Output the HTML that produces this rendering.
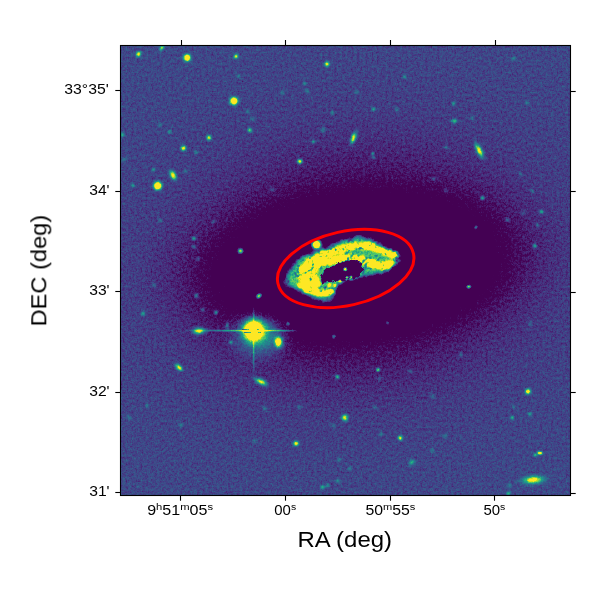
<!DOCTYPE html>
<html><head><meta charset="utf-8"><title>plot</title><style>
html,body{margin:0;padding:0;background:#fff;width:600px;height:600px;overflow:hidden}
svg{display:block;position:absolute;left:0;top:0}
text{font-family:"Liberation Sans",sans-serif;fill:#000}
</style></head><body>
<svg width="600" height="600" viewBox="0 0 600 600">
<defs>
<clipPath id="ax"><rect x="120.5" y="45.5" width="450" height="450"/></clipPath>
<radialGradient id="dh"><stop offset="0.0000" stop-color="#363636"/><stop offset="0.3500" stop-color="#393939"/><stop offset="0.4250" stop-color="#414141"/><stop offset="0.5000" stop-color="#474747"/><stop offset="0.6000" stop-color="#4c4c4c"/><stop offset="0.7500" stop-color="#4f4f4f"/><stop offset="1.0000" stop-color="#515151"/></radialGradient>
<radialGradient id="dk"><stop offset="0.0000" stop-color="#030303" stop-opacity="1"/><stop offset="0.4615" stop-color="#121212" stop-opacity="1"/><stop offset="0.5769" stop-color="#222222" stop-opacity="1"/><stop offset="0.6692" stop-color="#2f2f2f" stop-opacity="1"/><stop offset="0.7692" stop-color="#393939" stop-opacity="0.7"/><stop offset="0.8846" stop-color="#404040" stop-opacity="0.3"/><stop offset="1.0000" stop-color="#424242" stop-opacity="0"/></radialGradient>
<radialGradient id="glow"><stop offset="0" stop-color="#fff" stop-opacity="0.42"/><stop offset="0.3" stop-color="#fff" stop-opacity="0.28"/><stop offset="0.55" stop-color="#fff" stop-opacity="0.12"/><stop offset="0.78" stop-color="#fff" stop-opacity="0.04"/><stop offset="1" stop-color="#fff" stop-opacity="0"/></radialGradient>
<radialGradient id="g0"><stop offset="0.000" stop-color="#fff" stop-opacity="0.629"/><stop offset="0.071" stop-color="#fff" stop-opacity="0.615"/><stop offset="0.143" stop-color="#fff" stop-opacity="0.574"/><stop offset="0.214" stop-color="#fff" stop-opacity="0.512"/><stop offset="0.286" stop-color="#fff" stop-opacity="0.436"/><stop offset="0.357" stop-color="#fff" stop-opacity="0.354"/><stop offset="0.429" stop-color="#fff" stop-opacity="0.275"/><stop offset="0.500" stop-color="#fff" stop-opacity="0.204"/><stop offset="0.571" stop-color="#fff" stop-opacity="0.145"/><stop offset="0.643" stop-color="#fff" stop-opacity="0.098"/><stop offset="0.714" stop-color="#fff" stop-opacity="0.063"/><stop offset="0.786" stop-color="#fff" stop-opacity="0.039"/><stop offset="0.857" stop-color="#fff" stop-opacity="0.023"/><stop offset="0.929" stop-color="#fff" stop-opacity="0.013"/><stop offset="1.000" stop-color="#fff" stop-opacity="0.000"/></radialGradient>
<radialGradient id="g1"><stop offset="0.000" stop-color="#fff" stop-opacity="0.447"/><stop offset="0.071" stop-color="#fff" stop-opacity="0.437"/><stop offset="0.143" stop-color="#fff" stop-opacity="0.408"/><stop offset="0.214" stop-color="#fff" stop-opacity="0.363"/><stop offset="0.286" stop-color="#fff" stop-opacity="0.309"/><stop offset="0.357" stop-color="#fff" stop-opacity="0.252"/><stop offset="0.429" stop-color="#fff" stop-opacity="0.196"/><stop offset="0.500" stop-color="#fff" stop-opacity="0.145"/><stop offset="0.571" stop-color="#fff" stop-opacity="0.103"/><stop offset="0.643" stop-color="#fff" stop-opacity="0.070"/><stop offset="0.714" stop-color="#fff" stop-opacity="0.045"/><stop offset="0.786" stop-color="#fff" stop-opacity="0.028"/><stop offset="0.857" stop-color="#fff" stop-opacity="0.016"/><stop offset="0.929" stop-color="#fff" stop-opacity="0.009"/><stop offset="1.000" stop-color="#fff" stop-opacity="0.000"/></radialGradient>
<radialGradient id="g2"><stop offset="0.000" stop-color="#fff" stop-opacity="1.000"/><stop offset="0.071" stop-color="#fff" stop-opacity="0.993"/><stop offset="0.143" stop-color="#fff" stop-opacity="0.927"/><stop offset="0.214" stop-color="#fff" stop-opacity="0.827"/><stop offset="0.286" stop-color="#fff" stop-opacity="0.704"/><stop offset="0.357" stop-color="#fff" stop-opacity="0.573"/><stop offset="0.429" stop-color="#fff" stop-opacity="0.445"/><stop offset="0.500" stop-color="#fff" stop-opacity="0.330"/><stop offset="0.571" stop-color="#fff" stop-opacity="0.234"/><stop offset="0.643" stop-color="#fff" stop-opacity="0.158"/><stop offset="0.714" stop-color="#fff" stop-opacity="0.102"/><stop offset="0.786" stop-color="#fff" stop-opacity="0.063"/><stop offset="0.857" stop-color="#fff" stop-opacity="0.037"/><stop offset="0.929" stop-color="#fff" stop-opacity="0.021"/><stop offset="1.000" stop-color="#fff" stop-opacity="0.000"/></radialGradient>
<radialGradient id="g3"><stop offset="0.000" stop-color="#fff" stop-opacity="0.594"/><stop offset="0.071" stop-color="#fff" stop-opacity="0.580"/><stop offset="0.143" stop-color="#fff" stop-opacity="0.542"/><stop offset="0.214" stop-color="#fff" stop-opacity="0.483"/><stop offset="0.286" stop-color="#fff" stop-opacity="0.411"/><stop offset="0.357" stop-color="#fff" stop-opacity="0.334"/><stop offset="0.429" stop-color="#fff" stop-opacity="0.260"/><stop offset="0.500" stop-color="#fff" stop-opacity="0.193"/><stop offset="0.571" stop-color="#fff" stop-opacity="0.137"/><stop offset="0.643" stop-color="#fff" stop-opacity="0.092"/><stop offset="0.714" stop-color="#fff" stop-opacity="0.060"/><stop offset="0.786" stop-color="#fff" stop-opacity="0.037"/><stop offset="0.857" stop-color="#fff" stop-opacity="0.022"/><stop offset="0.929" stop-color="#fff" stop-opacity="0.012"/><stop offset="1.000" stop-color="#fff" stop-opacity="0.000"/></radialGradient>
<radialGradient id="g4"><stop offset="0.000" stop-color="#fff" stop-opacity="0.622"/><stop offset="0.071" stop-color="#fff" stop-opacity="0.608"/><stop offset="0.143" stop-color="#fff" stop-opacity="0.567"/><stop offset="0.214" stop-color="#fff" stop-opacity="0.506"/><stop offset="0.286" stop-color="#fff" stop-opacity="0.431"/><stop offset="0.357" stop-color="#fff" stop-opacity="0.350"/><stop offset="0.429" stop-color="#fff" stop-opacity="0.272"/><stop offset="0.500" stop-color="#fff" stop-opacity="0.202"/><stop offset="0.571" stop-color="#fff" stop-opacity="0.143"/><stop offset="0.643" stop-color="#fff" stop-opacity="0.097"/><stop offset="0.714" stop-color="#fff" stop-opacity="0.063"/><stop offset="0.786" stop-color="#fff" stop-opacity="0.039"/><stop offset="0.857" stop-color="#fff" stop-opacity="0.023"/><stop offset="0.929" stop-color="#fff" stop-opacity="0.013"/><stop offset="1.000" stop-color="#fff" stop-opacity="0.000"/></radialGradient>
<radialGradient id="g5"><stop offset="0.000" stop-color="#fff" stop-opacity="1.000"/><stop offset="0.071" stop-color="#fff" stop-opacity="1.000"/><stop offset="0.143" stop-color="#fff" stop-opacity="1.000"/><stop offset="0.214" stop-color="#fff" stop-opacity="0.953"/><stop offset="0.286" stop-color="#fff" stop-opacity="0.811"/><stop offset="0.357" stop-color="#fff" stop-opacity="0.660"/><stop offset="0.429" stop-color="#fff" stop-opacity="0.513"/><stop offset="0.500" stop-color="#fff" stop-opacity="0.380"/><stop offset="0.571" stop-color="#fff" stop-opacity="0.270"/><stop offset="0.643" stop-color="#fff" stop-opacity="0.182"/><stop offset="0.714" stop-color="#fff" stop-opacity="0.118"/><stop offset="0.786" stop-color="#fff" stop-opacity="0.073"/><stop offset="0.857" stop-color="#fff" stop-opacity="0.043"/><stop offset="0.929" stop-color="#fff" stop-opacity="0.024"/><stop offset="1.000" stop-color="#fff" stop-opacity="0.000"/></radialGradient>
<radialGradient id="g6"><stop offset="0.000" stop-color="#fff" stop-opacity="0.430"/><stop offset="0.071" stop-color="#fff" stop-opacity="0.420"/><stop offset="0.143" stop-color="#fff" stop-opacity="0.392"/><stop offset="0.214" stop-color="#fff" stop-opacity="0.349"/><stop offset="0.286" stop-color="#fff" stop-opacity="0.298"/><stop offset="0.357" stop-color="#fff" stop-opacity="0.242"/><stop offset="0.429" stop-color="#fff" stop-opacity="0.188"/><stop offset="0.500" stop-color="#fff" stop-opacity="0.140"/><stop offset="0.571" stop-color="#fff" stop-opacity="0.099"/><stop offset="0.643" stop-color="#fff" stop-opacity="0.067"/><stop offset="0.714" stop-color="#fff" stop-opacity="0.043"/><stop offset="0.786" stop-color="#fff" stop-opacity="0.027"/><stop offset="0.857" stop-color="#fff" stop-opacity="0.016"/><stop offset="0.929" stop-color="#fff" stop-opacity="0.009"/><stop offset="1.000" stop-color="#fff" stop-opacity="0.000"/></radialGradient>
<radialGradient id="g7"><stop offset="0.000" stop-color="#fff" stop-opacity="0.607"/><stop offset="0.071" stop-color="#fff" stop-opacity="0.593"/><stop offset="0.143" stop-color="#fff" stop-opacity="0.554"/><stop offset="0.214" stop-color="#fff" stop-opacity="0.494"/><stop offset="0.286" stop-color="#fff" stop-opacity="0.420"/><stop offset="0.357" stop-color="#fff" stop-opacity="0.342"/><stop offset="0.429" stop-color="#fff" stop-opacity="0.266"/><stop offset="0.500" stop-color="#fff" stop-opacity="0.197"/><stop offset="0.571" stop-color="#fff" stop-opacity="0.140"/><stop offset="0.643" stop-color="#fff" stop-opacity="0.095"/><stop offset="0.714" stop-color="#fff" stop-opacity="0.061"/><stop offset="0.786" stop-color="#fff" stop-opacity="0.038"/><stop offset="0.857" stop-color="#fff" stop-opacity="0.022"/><stop offset="0.929" stop-color="#fff" stop-opacity="0.013"/><stop offset="1.000" stop-color="#fff" stop-opacity="0.000"/></radialGradient>
<radialGradient id="g8"><stop offset="0.000" stop-color="#fff" stop-opacity="0.222"/><stop offset="0.071" stop-color="#fff" stop-opacity="0.217"/><stop offset="0.143" stop-color="#fff" stop-opacity="0.202"/><stop offset="0.214" stop-color="#fff" stop-opacity="0.180"/><stop offset="0.286" stop-color="#fff" stop-opacity="0.153"/><stop offset="0.357" stop-color="#fff" stop-opacity="0.125"/><stop offset="0.429" stop-color="#fff" stop-opacity="0.097"/><stop offset="0.500" stop-color="#fff" stop-opacity="0.072"/><stop offset="0.571" stop-color="#fff" stop-opacity="0.051"/><stop offset="0.643" stop-color="#fff" stop-opacity="0.034"/><stop offset="0.714" stop-color="#fff" stop-opacity="0.022"/><stop offset="0.786" stop-color="#fff" stop-opacity="0.014"/><stop offset="0.857" stop-color="#fff" stop-opacity="0.008"/><stop offset="0.929" stop-color="#fff" stop-opacity="0.005"/><stop offset="1.000" stop-color="#fff" stop-opacity="0.000"/></radialGradient>
<radialGradient id="g9"><stop offset="0.000" stop-color="#fff" stop-opacity="0.651"/><stop offset="0.071" stop-color="#fff" stop-opacity="0.636"/><stop offset="0.143" stop-color="#fff" stop-opacity="0.594"/><stop offset="0.214" stop-color="#fff" stop-opacity="0.529"/><stop offset="0.286" stop-color="#fff" stop-opacity="0.451"/><stop offset="0.357" stop-color="#fff" stop-opacity="0.367"/><stop offset="0.429" stop-color="#fff" stop-opacity="0.285"/><stop offset="0.500" stop-color="#fff" stop-opacity="0.211"/><stop offset="0.571" stop-color="#fff" stop-opacity="0.150"/><stop offset="0.643" stop-color="#fff" stop-opacity="0.101"/><stop offset="0.714" stop-color="#fff" stop-opacity="0.066"/><stop offset="0.786" stop-color="#fff" stop-opacity="0.040"/><stop offset="0.857" stop-color="#fff" stop-opacity="0.024"/><stop offset="0.929" stop-color="#fff" stop-opacity="0.013"/><stop offset="1.000" stop-color="#fff" stop-opacity="0.000"/></radialGradient>
<radialGradient id="g10"><stop offset="0.000" stop-color="#fff" stop-opacity="0.674"/><stop offset="0.071" stop-color="#fff" stop-opacity="0.658"/><stop offset="0.143" stop-color="#fff" stop-opacity="0.614"/><stop offset="0.214" stop-color="#fff" stop-opacity="0.548"/><stop offset="0.286" stop-color="#fff" stop-opacity="0.466"/><stop offset="0.357" stop-color="#fff" stop-opacity="0.379"/><stop offset="0.429" stop-color="#fff" stop-opacity="0.295"/><stop offset="0.500" stop-color="#fff" stop-opacity="0.219"/><stop offset="0.571" stop-color="#fff" stop-opacity="0.155"/><stop offset="0.643" stop-color="#fff" stop-opacity="0.105"/><stop offset="0.714" stop-color="#fff" stop-opacity="0.068"/><stop offset="0.786" stop-color="#fff" stop-opacity="0.042"/><stop offset="0.857" stop-color="#fff" stop-opacity="0.025"/><stop offset="0.929" stop-color="#fff" stop-opacity="0.014"/><stop offset="1.000" stop-color="#fff" stop-opacity="0.000"/></radialGradient>
<radialGradient id="g11"><stop offset="0.000" stop-color="#fff" stop-opacity="1.000"/><stop offset="0.071" stop-color="#fff" stop-opacity="1.000"/><stop offset="0.143" stop-color="#fff" stop-opacity="1.000"/><stop offset="0.214" stop-color="#fff" stop-opacity="0.988"/><stop offset="0.286" stop-color="#fff" stop-opacity="0.842"/><stop offset="0.357" stop-color="#fff" stop-opacity="0.684"/><stop offset="0.429" stop-color="#fff" stop-opacity="0.532"/><stop offset="0.500" stop-color="#fff" stop-opacity="0.394"/><stop offset="0.571" stop-color="#fff" stop-opacity="0.280"/><stop offset="0.643" stop-color="#fff" stop-opacity="0.189"/><stop offset="0.714" stop-color="#fff" stop-opacity="0.122"/><stop offset="0.786" stop-color="#fff" stop-opacity="0.076"/><stop offset="0.857" stop-color="#fff" stop-opacity="0.045"/><stop offset="0.929" stop-color="#fff" stop-opacity="0.025"/><stop offset="1.000" stop-color="#fff" stop-opacity="0.000"/></radialGradient>
<radialGradient id="g12"><stop offset="0.000" stop-color="#fff" stop-opacity="0.254"/><stop offset="0.071" stop-color="#fff" stop-opacity="0.248"/><stop offset="0.143" stop-color="#fff" stop-opacity="0.231"/><stop offset="0.214" stop-color="#fff" stop-opacity="0.206"/><stop offset="0.286" stop-color="#fff" stop-opacity="0.176"/><stop offset="0.357" stop-color="#fff" stop-opacity="0.143"/><stop offset="0.429" stop-color="#fff" stop-opacity="0.111"/><stop offset="0.500" stop-color="#fff" stop-opacity="0.082"/><stop offset="0.571" stop-color="#fff" stop-opacity="0.058"/><stop offset="0.643" stop-color="#fff" stop-opacity="0.039"/><stop offset="0.714" stop-color="#fff" stop-opacity="0.026"/><stop offset="0.786" stop-color="#fff" stop-opacity="0.016"/><stop offset="0.857" stop-color="#fff" stop-opacity="0.009"/><stop offset="0.929" stop-color="#fff" stop-opacity="0.005"/><stop offset="1.000" stop-color="#fff" stop-opacity="0.000"/></radialGradient>
<radialGradient id="g13"><stop offset="0.000" stop-color="#fff" stop-opacity="0.253"/><stop offset="0.071" stop-color="#fff" stop-opacity="0.248"/><stop offset="0.143" stop-color="#fff" stop-opacity="0.231"/><stop offset="0.214" stop-color="#fff" stop-opacity="0.206"/><stop offset="0.286" stop-color="#fff" stop-opacity="0.175"/><stop offset="0.357" stop-color="#fff" stop-opacity="0.143"/><stop offset="0.429" stop-color="#fff" stop-opacity="0.111"/><stop offset="0.500" stop-color="#fff" stop-opacity="0.082"/><stop offset="0.571" stop-color="#fff" stop-opacity="0.058"/><stop offset="0.643" stop-color="#fff" stop-opacity="0.039"/><stop offset="0.714" stop-color="#fff" stop-opacity="0.026"/><stop offset="0.786" stop-color="#fff" stop-opacity="0.016"/><stop offset="0.857" stop-color="#fff" stop-opacity="0.009"/><stop offset="0.929" stop-color="#fff" stop-opacity="0.005"/><stop offset="1.000" stop-color="#fff" stop-opacity="0.000"/></radialGradient>
<radialGradient id="g14"><stop offset="0.000" stop-color="#fff" stop-opacity="0.332"/><stop offset="0.071" stop-color="#fff" stop-opacity="0.324"/><stop offset="0.143" stop-color="#fff" stop-opacity="0.303"/><stop offset="0.214" stop-color="#fff" stop-opacity="0.270"/><stop offset="0.286" stop-color="#fff" stop-opacity="0.230"/><stop offset="0.357" stop-color="#fff" stop-opacity="0.187"/><stop offset="0.429" stop-color="#fff" stop-opacity="0.145"/><stop offset="0.500" stop-color="#fff" stop-opacity="0.108"/><stop offset="0.571" stop-color="#fff" stop-opacity="0.076"/><stop offset="0.643" stop-color="#fff" stop-opacity="0.052"/><stop offset="0.714" stop-color="#fff" stop-opacity="0.033"/><stop offset="0.786" stop-color="#fff" stop-opacity="0.021"/><stop offset="0.857" stop-color="#fff" stop-opacity="0.012"/><stop offset="0.929" stop-color="#fff" stop-opacity="0.007"/><stop offset="1.000" stop-color="#fff" stop-opacity="0.000"/></radialGradient>
<radialGradient id="g15"><stop offset="0.000" stop-color="#fff" stop-opacity="0.599"/><stop offset="0.071" stop-color="#fff" stop-opacity="0.585"/><stop offset="0.143" stop-color="#fff" stop-opacity="0.546"/><stop offset="0.214" stop-color="#fff" stop-opacity="0.487"/><stop offset="0.286" stop-color="#fff" stop-opacity="0.415"/><stop offset="0.357" stop-color="#fff" stop-opacity="0.337"/><stop offset="0.429" stop-color="#fff" stop-opacity="0.262"/><stop offset="0.500" stop-color="#fff" stop-opacity="0.194"/><stop offset="0.571" stop-color="#fff" stop-opacity="0.138"/><stop offset="0.643" stop-color="#fff" stop-opacity="0.093"/><stop offset="0.714" stop-color="#fff" stop-opacity="0.060"/><stop offset="0.786" stop-color="#fff" stop-opacity="0.037"/><stop offset="0.857" stop-color="#fff" stop-opacity="0.022"/><stop offset="0.929" stop-color="#fff" stop-opacity="0.012"/><stop offset="1.000" stop-color="#fff" stop-opacity="0.000"/></radialGradient>
<radialGradient id="g16"><stop offset="0.000" stop-color="#fff" stop-opacity="0.610"/><stop offset="0.071" stop-color="#fff" stop-opacity="0.596"/><stop offset="0.143" stop-color="#fff" stop-opacity="0.557"/><stop offset="0.214" stop-color="#fff" stop-opacity="0.496"/><stop offset="0.286" stop-color="#fff" stop-opacity="0.423"/><stop offset="0.357" stop-color="#fff" stop-opacity="0.344"/><stop offset="0.429" stop-color="#fff" stop-opacity="0.267"/><stop offset="0.500" stop-color="#fff" stop-opacity="0.198"/><stop offset="0.571" stop-color="#fff" stop-opacity="0.140"/><stop offset="0.643" stop-color="#fff" stop-opacity="0.095"/><stop offset="0.714" stop-color="#fff" stop-opacity="0.061"/><stop offset="0.786" stop-color="#fff" stop-opacity="0.038"/><stop offset="0.857" stop-color="#fff" stop-opacity="0.022"/><stop offset="0.929" stop-color="#fff" stop-opacity="0.013"/><stop offset="1.000" stop-color="#fff" stop-opacity="0.000"/></radialGradient>
<radialGradient id="g17"><stop offset="0.000" stop-color="#fff" stop-opacity="0.289"/><stop offset="0.071" stop-color="#fff" stop-opacity="0.283"/><stop offset="0.143" stop-color="#fff" stop-opacity="0.264"/><stop offset="0.214" stop-color="#fff" stop-opacity="0.235"/><stop offset="0.286" stop-color="#fff" stop-opacity="0.200"/><stop offset="0.357" stop-color="#fff" stop-opacity="0.163"/><stop offset="0.429" stop-color="#fff" stop-opacity="0.127"/><stop offset="0.500" stop-color="#fff" stop-opacity="0.094"/><stop offset="0.571" stop-color="#fff" stop-opacity="0.067"/><stop offset="0.643" stop-color="#fff" stop-opacity="0.045"/><stop offset="0.714" stop-color="#fff" stop-opacity="0.029"/><stop offset="0.786" stop-color="#fff" stop-opacity="0.018"/><stop offset="0.857" stop-color="#fff" stop-opacity="0.011"/><stop offset="0.929" stop-color="#fff" stop-opacity="0.006"/><stop offset="1.000" stop-color="#fff" stop-opacity="0.000"/></radialGradient>
<radialGradient id="g18"><stop offset="0.000" stop-color="#fff" stop-opacity="0.181"/><stop offset="0.071" stop-color="#fff" stop-opacity="0.177"/><stop offset="0.143" stop-color="#fff" stop-opacity="0.166"/><stop offset="0.214" stop-color="#fff" stop-opacity="0.148"/><stop offset="0.286" stop-color="#fff" stop-opacity="0.126"/><stop offset="0.357" stop-color="#fff" stop-opacity="0.102"/><stop offset="0.429" stop-color="#fff" stop-opacity="0.079"/><stop offset="0.500" stop-color="#fff" stop-opacity="0.059"/><stop offset="0.571" stop-color="#fff" stop-opacity="0.042"/><stop offset="0.643" stop-color="#fff" stop-opacity="0.028"/><stop offset="0.714" stop-color="#fff" stop-opacity="0.018"/><stop offset="0.786" stop-color="#fff" stop-opacity="0.011"/><stop offset="0.857" stop-color="#fff" stop-opacity="0.007"/><stop offset="0.929" stop-color="#fff" stop-opacity="0.004"/><stop offset="1.000" stop-color="#fff" stop-opacity="0.000"/></radialGradient>
<radialGradient id="g19"><stop offset="0.000" stop-color="#fff" stop-opacity="0.249"/><stop offset="0.071" stop-color="#fff" stop-opacity="0.243"/><stop offset="0.143" stop-color="#fff" stop-opacity="0.227"/><stop offset="0.214" stop-color="#fff" stop-opacity="0.203"/><stop offset="0.286" stop-color="#fff" stop-opacity="0.172"/><stop offset="0.357" stop-color="#fff" stop-opacity="0.140"/><stop offset="0.429" stop-color="#fff" stop-opacity="0.109"/><stop offset="0.500" stop-color="#fff" stop-opacity="0.081"/><stop offset="0.571" stop-color="#fff" stop-opacity="0.057"/><stop offset="0.643" stop-color="#fff" stop-opacity="0.039"/><stop offset="0.714" stop-color="#fff" stop-opacity="0.025"/><stop offset="0.786" stop-color="#fff" stop-opacity="0.015"/><stop offset="0.857" stop-color="#fff" stop-opacity="0.009"/><stop offset="0.929" stop-color="#fff" stop-opacity="0.005"/><stop offset="1.000" stop-color="#fff" stop-opacity="0.000"/></radialGradient>
<radialGradient id="g20"><stop offset="0.000" stop-color="#fff" stop-opacity="0.244"/><stop offset="0.071" stop-color="#fff" stop-opacity="0.238"/><stop offset="0.143" stop-color="#fff" stop-opacity="0.222"/><stop offset="0.214" stop-color="#fff" stop-opacity="0.198"/><stop offset="0.286" stop-color="#fff" stop-opacity="0.169"/><stop offset="0.357" stop-color="#fff" stop-opacity="0.137"/><stop offset="0.429" stop-color="#fff" stop-opacity="0.107"/><stop offset="0.500" stop-color="#fff" stop-opacity="0.079"/><stop offset="0.571" stop-color="#fff" stop-opacity="0.056"/><stop offset="0.643" stop-color="#fff" stop-opacity="0.038"/><stop offset="0.714" stop-color="#fff" stop-opacity="0.025"/><stop offset="0.786" stop-color="#fff" stop-opacity="0.015"/><stop offset="0.857" stop-color="#fff" stop-opacity="0.009"/><stop offset="0.929" stop-color="#fff" stop-opacity="0.005"/><stop offset="1.000" stop-color="#fff" stop-opacity="0.000"/></radialGradient>
<radialGradient id="g21"><stop offset="0.000" stop-color="#fff" stop-opacity="0.209"/><stop offset="0.071" stop-color="#fff" stop-opacity="0.204"/><stop offset="0.143" stop-color="#fff" stop-opacity="0.190"/><stop offset="0.214" stop-color="#fff" stop-opacity="0.170"/><stop offset="0.286" stop-color="#fff" stop-opacity="0.145"/><stop offset="0.357" stop-color="#fff" stop-opacity="0.118"/><stop offset="0.429" stop-color="#fff" stop-opacity="0.091"/><stop offset="0.500" stop-color="#fff" stop-opacity="0.068"/><stop offset="0.571" stop-color="#fff" stop-opacity="0.048"/><stop offset="0.643" stop-color="#fff" stop-opacity="0.032"/><stop offset="0.714" stop-color="#fff" stop-opacity="0.021"/><stop offset="0.786" stop-color="#fff" stop-opacity="0.013"/><stop offset="0.857" stop-color="#fff" stop-opacity="0.008"/><stop offset="0.929" stop-color="#fff" stop-opacity="0.004"/><stop offset="1.000" stop-color="#fff" stop-opacity="0.000"/></radialGradient>
<radialGradient id="g22"><stop offset="0.000" stop-color="#fff" stop-opacity="0.187"/><stop offset="0.071" stop-color="#fff" stop-opacity="0.183"/><stop offset="0.143" stop-color="#fff" stop-opacity="0.171"/><stop offset="0.214" stop-color="#fff" stop-opacity="0.152"/><stop offset="0.286" stop-color="#fff" stop-opacity="0.130"/><stop offset="0.357" stop-color="#fff" stop-opacity="0.105"/><stop offset="0.429" stop-color="#fff" stop-opacity="0.082"/><stop offset="0.500" stop-color="#fff" stop-opacity="0.061"/><stop offset="0.571" stop-color="#fff" stop-opacity="0.043"/><stop offset="0.643" stop-color="#fff" stop-opacity="0.029"/><stop offset="0.714" stop-color="#fff" stop-opacity="0.019"/><stop offset="0.786" stop-color="#fff" stop-opacity="0.012"/><stop offset="0.857" stop-color="#fff" stop-opacity="0.007"/><stop offset="0.929" stop-color="#fff" stop-opacity="0.004"/><stop offset="1.000" stop-color="#fff" stop-opacity="0.000"/></radialGradient>
<radialGradient id="g23"><stop offset="0.000" stop-color="#fff" stop-opacity="0.646"/><stop offset="0.071" stop-color="#fff" stop-opacity="0.631"/><stop offset="0.143" stop-color="#fff" stop-opacity="0.589"/><stop offset="0.214" stop-color="#fff" stop-opacity="0.525"/><stop offset="0.286" stop-color="#fff" stop-opacity="0.447"/><stop offset="0.357" stop-color="#fff" stop-opacity="0.364"/><stop offset="0.429" stop-color="#fff" stop-opacity="0.282"/><stop offset="0.500" stop-color="#fff" stop-opacity="0.210"/><stop offset="0.571" stop-color="#fff" stop-opacity="0.149"/><stop offset="0.643" stop-color="#fff" stop-opacity="0.101"/><stop offset="0.714" stop-color="#fff" stop-opacity="0.065"/><stop offset="0.786" stop-color="#fff" stop-opacity="0.040"/><stop offset="0.857" stop-color="#fff" stop-opacity="0.024"/><stop offset="0.929" stop-color="#fff" stop-opacity="0.013"/><stop offset="1.000" stop-color="#fff" stop-opacity="0.000"/></radialGradient>
<radialGradient id="g24"><stop offset="0.000" stop-color="#fff" stop-opacity="0.344"/><stop offset="0.071" stop-color="#fff" stop-opacity="0.336"/><stop offset="0.143" stop-color="#fff" stop-opacity="0.314"/><stop offset="0.214" stop-color="#fff" stop-opacity="0.280"/><stop offset="0.286" stop-color="#fff" stop-opacity="0.238"/><stop offset="0.357" stop-color="#fff" stop-opacity="0.194"/><stop offset="0.429" stop-color="#fff" stop-opacity="0.150"/><stop offset="0.500" stop-color="#fff" stop-opacity="0.112"/><stop offset="0.571" stop-color="#fff" stop-opacity="0.079"/><stop offset="0.643" stop-color="#fff" stop-opacity="0.054"/><stop offset="0.714" stop-color="#fff" stop-opacity="0.035"/><stop offset="0.786" stop-color="#fff" stop-opacity="0.021"/><stop offset="0.857" stop-color="#fff" stop-opacity="0.013"/><stop offset="0.929" stop-color="#fff" stop-opacity="0.007"/><stop offset="1.000" stop-color="#fff" stop-opacity="0.000"/></radialGradient>
<radialGradient id="g25"><stop offset="0.000" stop-color="#fff" stop-opacity="0.255"/><stop offset="0.071" stop-color="#fff" stop-opacity="0.249"/><stop offset="0.143" stop-color="#fff" stop-opacity="0.233"/><stop offset="0.214" stop-color="#fff" stop-opacity="0.208"/><stop offset="0.286" stop-color="#fff" stop-opacity="0.177"/><stop offset="0.357" stop-color="#fff" stop-opacity="0.144"/><stop offset="0.429" stop-color="#fff" stop-opacity="0.112"/><stop offset="0.500" stop-color="#fff" stop-opacity="0.083"/><stop offset="0.571" stop-color="#fff" stop-opacity="0.059"/><stop offset="0.643" stop-color="#fff" stop-opacity="0.040"/><stop offset="0.714" stop-color="#fff" stop-opacity="0.026"/><stop offset="0.786" stop-color="#fff" stop-opacity="0.016"/><stop offset="0.857" stop-color="#fff" stop-opacity="0.009"/><stop offset="0.929" stop-color="#fff" stop-opacity="0.005"/><stop offset="1.000" stop-color="#fff" stop-opacity="0.000"/></radialGradient>
<radialGradient id="g26"><stop offset="0.000" stop-color="#fff" stop-opacity="0.158"/><stop offset="0.071" stop-color="#fff" stop-opacity="0.154"/><stop offset="0.143" stop-color="#fff" stop-opacity="0.144"/><stop offset="0.214" stop-color="#fff" stop-opacity="0.128"/><stop offset="0.286" stop-color="#fff" stop-opacity="0.109"/><stop offset="0.357" stop-color="#fff" stop-opacity="0.089"/><stop offset="0.429" stop-color="#fff" stop-opacity="0.069"/><stop offset="0.500" stop-color="#fff" stop-opacity="0.051"/><stop offset="0.571" stop-color="#fff" stop-opacity="0.036"/><stop offset="0.643" stop-color="#fff" stop-opacity="0.025"/><stop offset="0.714" stop-color="#fff" stop-opacity="0.016"/><stop offset="0.786" stop-color="#fff" stop-opacity="0.010"/><stop offset="0.857" stop-color="#fff" stop-opacity="0.006"/><stop offset="0.929" stop-color="#fff" stop-opacity="0.003"/><stop offset="1.000" stop-color="#fff" stop-opacity="0.000"/></radialGradient>
<radialGradient id="g27"><stop offset="0.000" stop-color="#fff" stop-opacity="0.329"/><stop offset="0.071" stop-color="#fff" stop-opacity="0.322"/><stop offset="0.143" stop-color="#fff" stop-opacity="0.301"/><stop offset="0.214" stop-color="#fff" stop-opacity="0.268"/><stop offset="0.286" stop-color="#fff" stop-opacity="0.228"/><stop offset="0.357" stop-color="#fff" stop-opacity="0.186"/><stop offset="0.429" stop-color="#fff" stop-opacity="0.144"/><stop offset="0.500" stop-color="#fff" stop-opacity="0.107"/><stop offset="0.571" stop-color="#fff" stop-opacity="0.076"/><stop offset="0.643" stop-color="#fff" stop-opacity="0.051"/><stop offset="0.714" stop-color="#fff" stop-opacity="0.033"/><stop offset="0.786" stop-color="#fff" stop-opacity="0.020"/><stop offset="0.857" stop-color="#fff" stop-opacity="0.012"/><stop offset="0.929" stop-color="#fff" stop-opacity="0.007"/><stop offset="1.000" stop-color="#fff" stop-opacity="0.000"/></radialGradient>
<radialGradient id="g28"><stop offset="0.000" stop-color="#fff" stop-opacity="0.342"/><stop offset="0.071" stop-color="#fff" stop-opacity="0.334"/><stop offset="0.143" stop-color="#fff" stop-opacity="0.312"/><stop offset="0.214" stop-color="#fff" stop-opacity="0.278"/><stop offset="0.286" stop-color="#fff" stop-opacity="0.237"/><stop offset="0.357" stop-color="#fff" stop-opacity="0.193"/><stop offset="0.429" stop-color="#fff" stop-opacity="0.150"/><stop offset="0.500" stop-color="#fff" stop-opacity="0.111"/><stop offset="0.571" stop-color="#fff" stop-opacity="0.079"/><stop offset="0.643" stop-color="#fff" stop-opacity="0.053"/><stop offset="0.714" stop-color="#fff" stop-opacity="0.034"/><stop offset="0.786" stop-color="#fff" stop-opacity="0.021"/><stop offset="0.857" stop-color="#fff" stop-opacity="0.013"/><stop offset="0.929" stop-color="#fff" stop-opacity="0.007"/><stop offset="1.000" stop-color="#fff" stop-opacity="0.000"/></radialGradient>
<radialGradient id="g29"><stop offset="0.000" stop-color="#fff" stop-opacity="0.334"/><stop offset="0.071" stop-color="#fff" stop-opacity="0.326"/><stop offset="0.143" stop-color="#fff" stop-opacity="0.304"/><stop offset="0.214" stop-color="#fff" stop-opacity="0.271"/><stop offset="0.286" stop-color="#fff" stop-opacity="0.231"/><stop offset="0.357" stop-color="#fff" stop-opacity="0.188"/><stop offset="0.429" stop-color="#fff" stop-opacity="0.146"/><stop offset="0.500" stop-color="#fff" stop-opacity="0.108"/><stop offset="0.571" stop-color="#fff" stop-opacity="0.077"/><stop offset="0.643" stop-color="#fff" stop-opacity="0.052"/><stop offset="0.714" stop-color="#fff" stop-opacity="0.034"/><stop offset="0.786" stop-color="#fff" stop-opacity="0.021"/><stop offset="0.857" stop-color="#fff" stop-opacity="0.012"/><stop offset="0.929" stop-color="#fff" stop-opacity="0.007"/><stop offset="1.000" stop-color="#fff" stop-opacity="0.000"/></radialGradient>
<radialGradient id="g30"><stop offset="0.000" stop-color="#fff" stop-opacity="0.412"/><stop offset="0.071" stop-color="#fff" stop-opacity="0.403"/><stop offset="0.143" stop-color="#fff" stop-opacity="0.376"/><stop offset="0.214" stop-color="#fff" stop-opacity="0.335"/><stop offset="0.286" stop-color="#fff" stop-opacity="0.286"/><stop offset="0.357" stop-color="#fff" stop-opacity="0.232"/><stop offset="0.429" stop-color="#fff" stop-opacity="0.180"/><stop offset="0.500" stop-color="#fff" stop-opacity="0.134"/><stop offset="0.571" stop-color="#fff" stop-opacity="0.095"/><stop offset="0.643" stop-color="#fff" stop-opacity="0.064"/><stop offset="0.714" stop-color="#fff" stop-opacity="0.042"/><stop offset="0.786" stop-color="#fff" stop-opacity="0.026"/><stop offset="0.857" stop-color="#fff" stop-opacity="0.015"/><stop offset="0.929" stop-color="#fff" stop-opacity="0.009"/><stop offset="1.000" stop-color="#fff" stop-opacity="0.000"/></radialGradient>
<radialGradient id="g31"><stop offset="0.000" stop-color="#fff" stop-opacity="0.167"/><stop offset="0.071" stop-color="#fff" stop-opacity="0.163"/><stop offset="0.143" stop-color="#fff" stop-opacity="0.152"/><stop offset="0.214" stop-color="#fff" stop-opacity="0.136"/><stop offset="0.286" stop-color="#fff" stop-opacity="0.116"/><stop offset="0.357" stop-color="#fff" stop-opacity="0.094"/><stop offset="0.429" stop-color="#fff" stop-opacity="0.073"/><stop offset="0.500" stop-color="#fff" stop-opacity="0.054"/><stop offset="0.571" stop-color="#fff" stop-opacity="0.038"/><stop offset="0.643" stop-color="#fff" stop-opacity="0.026"/><stop offset="0.714" stop-color="#fff" stop-opacity="0.017"/><stop offset="0.786" stop-color="#fff" stop-opacity="0.010"/><stop offset="0.857" stop-color="#fff" stop-opacity="0.006"/><stop offset="0.929" stop-color="#fff" stop-opacity="0.003"/><stop offset="1.000" stop-color="#fff" stop-opacity="0.000"/></radialGradient>
<radialGradient id="g32"><stop offset="0.000" stop-color="#fff" stop-opacity="0.252"/><stop offset="0.071" stop-color="#fff" stop-opacity="0.246"/><stop offset="0.143" stop-color="#fff" stop-opacity="0.229"/><stop offset="0.214" stop-color="#fff" stop-opacity="0.205"/><stop offset="0.286" stop-color="#fff" stop-opacity="0.174"/><stop offset="0.357" stop-color="#fff" stop-opacity="0.142"/><stop offset="0.429" stop-color="#fff" stop-opacity="0.110"/><stop offset="0.500" stop-color="#fff" stop-opacity="0.082"/><stop offset="0.571" stop-color="#fff" stop-opacity="0.058"/><stop offset="0.643" stop-color="#fff" stop-opacity="0.039"/><stop offset="0.714" stop-color="#fff" stop-opacity="0.025"/><stop offset="0.786" stop-color="#fff" stop-opacity="0.016"/><stop offset="0.857" stop-color="#fff" stop-opacity="0.009"/><stop offset="0.929" stop-color="#fff" stop-opacity="0.005"/><stop offset="1.000" stop-color="#fff" stop-opacity="0.000"/></radialGradient>
<radialGradient id="g33"><stop offset="0.000" stop-color="#fff" stop-opacity="0.172"/><stop offset="0.071" stop-color="#fff" stop-opacity="0.168"/><stop offset="0.143" stop-color="#fff" stop-opacity="0.157"/><stop offset="0.214" stop-color="#fff" stop-opacity="0.140"/><stop offset="0.286" stop-color="#fff" stop-opacity="0.119"/><stop offset="0.357" stop-color="#fff" stop-opacity="0.097"/><stop offset="0.429" stop-color="#fff" stop-opacity="0.075"/><stop offset="0.500" stop-color="#fff" stop-opacity="0.056"/><stop offset="0.571" stop-color="#fff" stop-opacity="0.040"/><stop offset="0.643" stop-color="#fff" stop-opacity="0.027"/><stop offset="0.714" stop-color="#fff" stop-opacity="0.017"/><stop offset="0.786" stop-color="#fff" stop-opacity="0.011"/><stop offset="0.857" stop-color="#fff" stop-opacity="0.006"/><stop offset="0.929" stop-color="#fff" stop-opacity="0.004"/><stop offset="1.000" stop-color="#fff" stop-opacity="0.000"/></radialGradient>
<radialGradient id="g34"><stop offset="0.000" stop-color="#fff" stop-opacity="0.703"/><stop offset="0.071" stop-color="#fff" stop-opacity="0.687"/><stop offset="0.143" stop-color="#fff" stop-opacity="0.641"/><stop offset="0.214" stop-color="#fff" stop-opacity="0.571"/><stop offset="0.286" stop-color="#fff" stop-opacity="0.487"/><stop offset="0.357" stop-color="#fff" stop-opacity="0.396"/><stop offset="0.429" stop-color="#fff" stop-opacity="0.307"/><stop offset="0.500" stop-color="#fff" stop-opacity="0.228"/><stop offset="0.571" stop-color="#fff" stop-opacity="0.162"/><stop offset="0.643" stop-color="#fff" stop-opacity="0.109"/><stop offset="0.714" stop-color="#fff" stop-opacity="0.071"/><stop offset="0.786" stop-color="#fff" stop-opacity="0.044"/><stop offset="0.857" stop-color="#fff" stop-opacity="0.026"/><stop offset="0.929" stop-color="#fff" stop-opacity="0.015"/><stop offset="1.000" stop-color="#fff" stop-opacity="0.000"/></radialGradient>
<radialGradient id="g35"><stop offset="0.000" stop-color="#fff" stop-opacity="0.772"/><stop offset="0.071" stop-color="#fff" stop-opacity="0.755"/><stop offset="0.143" stop-color="#fff" stop-opacity="0.705"/><stop offset="0.214" stop-color="#fff" stop-opacity="0.628"/><stop offset="0.286" stop-color="#fff" stop-opacity="0.535"/><stop offset="0.357" stop-color="#fff" stop-opacity="0.435"/><stop offset="0.429" stop-color="#fff" stop-opacity="0.338"/><stop offset="0.500" stop-color="#fff" stop-opacity="0.251"/><stop offset="0.571" stop-color="#fff" stop-opacity="0.178"/><stop offset="0.643" stop-color="#fff" stop-opacity="0.120"/><stop offset="0.714" stop-color="#fff" stop-opacity="0.078"/><stop offset="0.786" stop-color="#fff" stop-opacity="0.048"/><stop offset="0.857" stop-color="#fff" stop-opacity="0.028"/><stop offset="0.929" stop-color="#fff" stop-opacity="0.016"/><stop offset="1.000" stop-color="#fff" stop-opacity="0.000"/></radialGradient>
<radialGradient id="g36"><stop offset="0.000" stop-color="#fff" stop-opacity="0.371"/><stop offset="0.071" stop-color="#fff" stop-opacity="0.363"/><stop offset="0.143" stop-color="#fff" stop-opacity="0.339"/><stop offset="0.214" stop-color="#fff" stop-opacity="0.302"/><stop offset="0.286" stop-color="#fff" stop-opacity="0.257"/><stop offset="0.357" stop-color="#fff" stop-opacity="0.209"/><stop offset="0.429" stop-color="#fff" stop-opacity="0.162"/><stop offset="0.500" stop-color="#fff" stop-opacity="0.120"/><stop offset="0.571" stop-color="#fff" stop-opacity="0.085"/><stop offset="0.643" stop-color="#fff" stop-opacity="0.058"/><stop offset="0.714" stop-color="#fff" stop-opacity="0.037"/><stop offset="0.786" stop-color="#fff" stop-opacity="0.023"/><stop offset="0.857" stop-color="#fff" stop-opacity="0.014"/><stop offset="0.929" stop-color="#fff" stop-opacity="0.008"/><stop offset="1.000" stop-color="#fff" stop-opacity="0.000"/></radialGradient>
<radialGradient id="g37"><stop offset="0.000" stop-color="#fff" stop-opacity="0.671"/><stop offset="0.071" stop-color="#fff" stop-opacity="0.656"/><stop offset="0.143" stop-color="#fff" stop-opacity="0.612"/><stop offset="0.214" stop-color="#fff" stop-opacity="0.546"/><stop offset="0.286" stop-color="#fff" stop-opacity="0.465"/><stop offset="0.357" stop-color="#fff" stop-opacity="0.378"/><stop offset="0.429" stop-color="#fff" stop-opacity="0.294"/><stop offset="0.500" stop-color="#fff" stop-opacity="0.218"/><stop offset="0.571" stop-color="#fff" stop-opacity="0.154"/><stop offset="0.643" stop-color="#fff" stop-opacity="0.104"/><stop offset="0.714" stop-color="#fff" stop-opacity="0.068"/><stop offset="0.786" stop-color="#fff" stop-opacity="0.042"/><stop offset="0.857" stop-color="#fff" stop-opacity="0.025"/><stop offset="0.929" stop-color="#fff" stop-opacity="0.014"/><stop offset="1.000" stop-color="#fff" stop-opacity="0.000"/></radialGradient>
<radialGradient id="g38"><stop offset="0.000" stop-color="#fff" stop-opacity="0.294"/><stop offset="0.071" stop-color="#fff" stop-opacity="0.287"/><stop offset="0.143" stop-color="#fff" stop-opacity="0.268"/><stop offset="0.214" stop-color="#fff" stop-opacity="0.239"/><stop offset="0.286" stop-color="#fff" stop-opacity="0.204"/><stop offset="0.357" stop-color="#fff" stop-opacity="0.166"/><stop offset="0.429" stop-color="#fff" stop-opacity="0.129"/><stop offset="0.500" stop-color="#fff" stop-opacity="0.095"/><stop offset="0.571" stop-color="#fff" stop-opacity="0.068"/><stop offset="0.643" stop-color="#fff" stop-opacity="0.046"/><stop offset="0.714" stop-color="#fff" stop-opacity="0.030"/><stop offset="0.786" stop-color="#fff" stop-opacity="0.018"/><stop offset="0.857" stop-color="#fff" stop-opacity="0.011"/><stop offset="0.929" stop-color="#fff" stop-opacity="0.006"/><stop offset="1.000" stop-color="#fff" stop-opacity="0.000"/></radialGradient>
<radialGradient id="g39"><stop offset="0.000" stop-color="#fff" stop-opacity="0.294"/><stop offset="0.071" stop-color="#fff" stop-opacity="0.288"/><stop offset="0.143" stop-color="#fff" stop-opacity="0.268"/><stop offset="0.214" stop-color="#fff" stop-opacity="0.239"/><stop offset="0.286" stop-color="#fff" stop-opacity="0.204"/><stop offset="0.357" stop-color="#fff" stop-opacity="0.166"/><stop offset="0.429" stop-color="#fff" stop-opacity="0.129"/><stop offset="0.500" stop-color="#fff" stop-opacity="0.096"/><stop offset="0.571" stop-color="#fff" stop-opacity="0.068"/><stop offset="0.643" stop-color="#fff" stop-opacity="0.046"/><stop offset="0.714" stop-color="#fff" stop-opacity="0.030"/><stop offset="0.786" stop-color="#fff" stop-opacity="0.018"/><stop offset="0.857" stop-color="#fff" stop-opacity="0.011"/><stop offset="0.929" stop-color="#fff" stop-opacity="0.006"/><stop offset="1.000" stop-color="#fff" stop-opacity="0.000"/></radialGradient>
<radialGradient id="g40"><stop offset="0.000" stop-color="#fff" stop-opacity="0.150"/><stop offset="0.071" stop-color="#fff" stop-opacity="0.146"/><stop offset="0.143" stop-color="#fff" stop-opacity="0.137"/><stop offset="0.214" stop-color="#fff" stop-opacity="0.122"/><stop offset="0.286" stop-color="#fff" stop-opacity="0.104"/><stop offset="0.357" stop-color="#fff" stop-opacity="0.084"/><stop offset="0.429" stop-color="#fff" stop-opacity="0.065"/><stop offset="0.500" stop-color="#fff" stop-opacity="0.049"/><stop offset="0.571" stop-color="#fff" stop-opacity="0.034"/><stop offset="0.643" stop-color="#fff" stop-opacity="0.023"/><stop offset="0.714" stop-color="#fff" stop-opacity="0.015"/><stop offset="0.786" stop-color="#fff" stop-opacity="0.009"/><stop offset="0.857" stop-color="#fff" stop-opacity="0.005"/><stop offset="0.929" stop-color="#fff" stop-opacity="0.003"/><stop offset="1.000" stop-color="#fff" stop-opacity="0.000"/></radialGradient>
<radialGradient id="g41"><stop offset="0.000" stop-color="#fff" stop-opacity="0.300"/><stop offset="0.071" stop-color="#fff" stop-opacity="0.294"/><stop offset="0.143" stop-color="#fff" stop-opacity="0.274"/><stop offset="0.214" stop-color="#fff" stop-opacity="0.244"/><stop offset="0.286" stop-color="#fff" stop-opacity="0.208"/><stop offset="0.357" stop-color="#fff" stop-opacity="0.169"/><stop offset="0.429" stop-color="#fff" stop-opacity="0.131"/><stop offset="0.500" stop-color="#fff" stop-opacity="0.098"/><stop offset="0.571" stop-color="#fff" stop-opacity="0.069"/><stop offset="0.643" stop-color="#fff" stop-opacity="0.047"/><stop offset="0.714" stop-color="#fff" stop-opacity="0.030"/><stop offset="0.786" stop-color="#fff" stop-opacity="0.019"/><stop offset="0.857" stop-color="#fff" stop-opacity="0.011"/><stop offset="0.929" stop-color="#fff" stop-opacity="0.006"/><stop offset="1.000" stop-color="#fff" stop-opacity="0.000"/></radialGradient>
<radialGradient id="g42"><stop offset="0.000" stop-color="#fff" stop-opacity="0.600"/><stop offset="0.071" stop-color="#fff" stop-opacity="0.586"/><stop offset="0.143" stop-color="#fff" stop-opacity="0.547"/><stop offset="0.214" stop-color="#fff" stop-opacity="0.488"/><stop offset="0.286" stop-color="#fff" stop-opacity="0.415"/><stop offset="0.357" stop-color="#fff" stop-opacity="0.338"/><stop offset="0.429" stop-color="#fff" stop-opacity="0.262"/><stop offset="0.500" stop-color="#fff" stop-opacity="0.195"/><stop offset="0.571" stop-color="#fff" stop-opacity="0.138"/><stop offset="0.643" stop-color="#fff" stop-opacity="0.093"/><stop offset="0.714" stop-color="#fff" stop-opacity="0.060"/><stop offset="0.786" stop-color="#fff" stop-opacity="0.037"/><stop offset="0.857" stop-color="#fff" stop-opacity="0.022"/><stop offset="0.929" stop-color="#fff" stop-opacity="0.012"/><stop offset="1.000" stop-color="#fff" stop-opacity="0.000"/></radialGradient>
<radialGradient id="g43"><stop offset="0.000" stop-color="#fff" stop-opacity="0.649"/><stop offset="0.071" stop-color="#fff" stop-opacity="0.634"/><stop offset="0.143" stop-color="#fff" stop-opacity="0.592"/><stop offset="0.214" stop-color="#fff" stop-opacity="0.527"/><stop offset="0.286" stop-color="#fff" stop-opacity="0.449"/><stop offset="0.357" stop-color="#fff" stop-opacity="0.365"/><stop offset="0.429" stop-color="#fff" stop-opacity="0.284"/><stop offset="0.500" stop-color="#fff" stop-opacity="0.211"/><stop offset="0.571" stop-color="#fff" stop-opacity="0.149"/><stop offset="0.643" stop-color="#fff" stop-opacity="0.101"/><stop offset="0.714" stop-color="#fff" stop-opacity="0.065"/><stop offset="0.786" stop-color="#fff" stop-opacity="0.040"/><stop offset="0.857" stop-color="#fff" stop-opacity="0.024"/><stop offset="0.929" stop-color="#fff" stop-opacity="0.013"/><stop offset="1.000" stop-color="#fff" stop-opacity="0.000"/></radialGradient>
<radialGradient id="g44"><stop offset="0.000" stop-color="#fff" stop-opacity="0.597"/><stop offset="0.071" stop-color="#fff" stop-opacity="0.584"/><stop offset="0.143" stop-color="#fff" stop-opacity="0.545"/><stop offset="0.214" stop-color="#fff" stop-opacity="0.486"/><stop offset="0.286" stop-color="#fff" stop-opacity="0.414"/><stop offset="0.357" stop-color="#fff" stop-opacity="0.336"/><stop offset="0.429" stop-color="#fff" stop-opacity="0.261"/><stop offset="0.500" stop-color="#fff" stop-opacity="0.194"/><stop offset="0.571" stop-color="#fff" stop-opacity="0.137"/><stop offset="0.643" stop-color="#fff" stop-opacity="0.093"/><stop offset="0.714" stop-color="#fff" stop-opacity="0.060"/><stop offset="0.786" stop-color="#fff" stop-opacity="0.037"/><stop offset="0.857" stop-color="#fff" stop-opacity="0.022"/><stop offset="0.929" stop-color="#fff" stop-opacity="0.012"/><stop offset="1.000" stop-color="#fff" stop-opacity="0.000"/></radialGradient>
<radialGradient id="g45"><stop offset="0.000" stop-color="#fff" stop-opacity="0.443"/><stop offset="0.071" stop-color="#fff" stop-opacity="0.433"/><stop offset="0.143" stop-color="#fff" stop-opacity="0.404"/><stop offset="0.214" stop-color="#fff" stop-opacity="0.360"/><stop offset="0.286" stop-color="#fff" stop-opacity="0.307"/><stop offset="0.357" stop-color="#fff" stop-opacity="0.249"/><stop offset="0.429" stop-color="#fff" stop-opacity="0.194"/><stop offset="0.500" stop-color="#fff" stop-opacity="0.144"/><stop offset="0.571" stop-color="#fff" stop-opacity="0.102"/><stop offset="0.643" stop-color="#fff" stop-opacity="0.069"/><stop offset="0.714" stop-color="#fff" stop-opacity="0.045"/><stop offset="0.786" stop-color="#fff" stop-opacity="0.028"/><stop offset="0.857" stop-color="#fff" stop-opacity="0.016"/><stop offset="0.929" stop-color="#fff" stop-opacity="0.009"/><stop offset="1.000" stop-color="#fff" stop-opacity="0.000"/></radialGradient>
<radialGradient id="g46"><stop offset="0.000" stop-color="#fff" stop-opacity="0.378"/><stop offset="0.071" stop-color="#fff" stop-opacity="0.370"/><stop offset="0.143" stop-color="#fff" stop-opacity="0.345"/><stop offset="0.214" stop-color="#fff" stop-opacity="0.308"/><stop offset="0.286" stop-color="#fff" stop-opacity="0.262"/><stop offset="0.357" stop-color="#fff" stop-opacity="0.213"/><stop offset="0.429" stop-color="#fff" stop-opacity="0.166"/><stop offset="0.500" stop-color="#fff" stop-opacity="0.123"/><stop offset="0.571" stop-color="#fff" stop-opacity="0.087"/><stop offset="0.643" stop-color="#fff" stop-opacity="0.059"/><stop offset="0.714" stop-color="#fff" stop-opacity="0.038"/><stop offset="0.786" stop-color="#fff" stop-opacity="0.024"/><stop offset="0.857" stop-color="#fff" stop-opacity="0.014"/><stop offset="0.929" stop-color="#fff" stop-opacity="0.008"/><stop offset="1.000" stop-color="#fff" stop-opacity="0.000"/></radialGradient>
<radialGradient id="g47"><stop offset="0.000" stop-color="#fff" stop-opacity="0.297"/><stop offset="0.071" stop-color="#fff" stop-opacity="0.290"/><stop offset="0.143" stop-color="#fff" stop-opacity="0.271"/><stop offset="0.214" stop-color="#fff" stop-opacity="0.241"/><stop offset="0.286" stop-color="#fff" stop-opacity="0.205"/><stop offset="0.357" stop-color="#fff" stop-opacity="0.167"/><stop offset="0.429" stop-color="#fff" stop-opacity="0.130"/><stop offset="0.500" stop-color="#fff" stop-opacity="0.096"/><stop offset="0.571" stop-color="#fff" stop-opacity="0.068"/><stop offset="0.643" stop-color="#fff" stop-opacity="0.046"/><stop offset="0.714" stop-color="#fff" stop-opacity="0.030"/><stop offset="0.786" stop-color="#fff" stop-opacity="0.018"/><stop offset="0.857" stop-color="#fff" stop-opacity="0.011"/><stop offset="0.929" stop-color="#fff" stop-opacity="0.006"/><stop offset="1.000" stop-color="#fff" stop-opacity="0.000"/></radialGradient>
<radialGradient id="g48"><stop offset="0.000" stop-color="#fff" stop-opacity="0.298"/><stop offset="0.071" stop-color="#fff" stop-opacity="0.291"/><stop offset="0.143" stop-color="#fff" stop-opacity="0.272"/><stop offset="0.214" stop-color="#fff" stop-opacity="0.242"/><stop offset="0.286" stop-color="#fff" stop-opacity="0.206"/><stop offset="0.357" stop-color="#fff" stop-opacity="0.168"/><stop offset="0.429" stop-color="#fff" stop-opacity="0.130"/><stop offset="0.500" stop-color="#fff" stop-opacity="0.097"/><stop offset="0.571" stop-color="#fff" stop-opacity="0.069"/><stop offset="0.643" stop-color="#fff" stop-opacity="0.046"/><stop offset="0.714" stop-color="#fff" stop-opacity="0.030"/><stop offset="0.786" stop-color="#fff" stop-opacity="0.019"/><stop offset="0.857" stop-color="#fff" stop-opacity="0.011"/><stop offset="0.929" stop-color="#fff" stop-opacity="0.006"/><stop offset="1.000" stop-color="#fff" stop-opacity="0.000"/></radialGradient>
<radialGradient id="g49"><stop offset="0.000" stop-color="#fff" stop-opacity="0.189"/><stop offset="0.071" stop-color="#fff" stop-opacity="0.185"/><stop offset="0.143" stop-color="#fff" stop-opacity="0.172"/><stop offset="0.214" stop-color="#fff" stop-opacity="0.154"/><stop offset="0.286" stop-color="#fff" stop-opacity="0.131"/><stop offset="0.357" stop-color="#fff" stop-opacity="0.106"/><stop offset="0.429" stop-color="#fff" stop-opacity="0.083"/><stop offset="0.500" stop-color="#fff" stop-opacity="0.061"/><stop offset="0.571" stop-color="#fff" stop-opacity="0.043"/><stop offset="0.643" stop-color="#fff" stop-opacity="0.029"/><stop offset="0.714" stop-color="#fff" stop-opacity="0.019"/><stop offset="0.786" stop-color="#fff" stop-opacity="0.012"/><stop offset="0.857" stop-color="#fff" stop-opacity="0.007"/><stop offset="0.929" stop-color="#fff" stop-opacity="0.004"/><stop offset="1.000" stop-color="#fff" stop-opacity="0.000"/></radialGradient>
<radialGradient id="g50"><stop offset="0.000" stop-color="#fff" stop-opacity="0.167"/><stop offset="0.071" stop-color="#fff" stop-opacity="0.163"/><stop offset="0.143" stop-color="#fff" stop-opacity="0.152"/><stop offset="0.214" stop-color="#fff" stop-opacity="0.136"/><stop offset="0.286" stop-color="#fff" stop-opacity="0.116"/><stop offset="0.357" stop-color="#fff" stop-opacity="0.094"/><stop offset="0.429" stop-color="#fff" stop-opacity="0.073"/><stop offset="0.500" stop-color="#fff" stop-opacity="0.054"/><stop offset="0.571" stop-color="#fff" stop-opacity="0.038"/><stop offset="0.643" stop-color="#fff" stop-opacity="0.026"/><stop offset="0.714" stop-color="#fff" stop-opacity="0.017"/><stop offset="0.786" stop-color="#fff" stop-opacity="0.010"/><stop offset="0.857" stop-color="#fff" stop-opacity="0.006"/><stop offset="0.929" stop-color="#fff" stop-opacity="0.003"/><stop offset="1.000" stop-color="#fff" stop-opacity="0.000"/></radialGradient>
<radialGradient id="g51"><stop offset="0.000" stop-color="#fff" stop-opacity="0.637"/><stop offset="0.071" stop-color="#fff" stop-opacity="0.623"/><stop offset="0.143" stop-color="#fff" stop-opacity="0.582"/><stop offset="0.214" stop-color="#fff" stop-opacity="0.518"/><stop offset="0.286" stop-color="#fff" stop-opacity="0.441"/><stop offset="0.357" stop-color="#fff" stop-opacity="0.359"/><stop offset="0.429" stop-color="#fff" stop-opacity="0.279"/><stop offset="0.500" stop-color="#fff" stop-opacity="0.207"/><stop offset="0.571" stop-color="#fff" stop-opacity="0.147"/><stop offset="0.643" stop-color="#fff" stop-opacity="0.099"/><stop offset="0.714" stop-color="#fff" stop-opacity="0.064"/><stop offset="0.786" stop-color="#fff" stop-opacity="0.040"/><stop offset="0.857" stop-color="#fff" stop-opacity="0.023"/><stop offset="0.929" stop-color="#fff" stop-opacity="0.013"/><stop offset="1.000" stop-color="#fff" stop-opacity="0.000"/></radialGradient>
<radialGradient id="g52"><stop offset="0.000" stop-color="#fff" stop-opacity="0.616"/><stop offset="0.071" stop-color="#fff" stop-opacity="0.602"/><stop offset="0.143" stop-color="#fff" stop-opacity="0.562"/><stop offset="0.214" stop-color="#fff" stop-opacity="0.501"/><stop offset="0.286" stop-color="#fff" stop-opacity="0.427"/><stop offset="0.357" stop-color="#fff" stop-opacity="0.347"/><stop offset="0.429" stop-color="#fff" stop-opacity="0.269"/><stop offset="0.500" stop-color="#fff" stop-opacity="0.200"/><stop offset="0.571" stop-color="#fff" stop-opacity="0.142"/><stop offset="0.643" stop-color="#fff" stop-opacity="0.096"/><stop offset="0.714" stop-color="#fff" stop-opacity="0.062"/><stop offset="0.786" stop-color="#fff" stop-opacity="0.038"/><stop offset="0.857" stop-color="#fff" stop-opacity="0.023"/><stop offset="0.929" stop-color="#fff" stop-opacity="0.013"/><stop offset="1.000" stop-color="#fff" stop-opacity="0.000"/></radialGradient>
<radialGradient id="g53"><stop offset="0.000" stop-color="#fff" stop-opacity="0.644"/><stop offset="0.071" stop-color="#fff" stop-opacity="0.629"/><stop offset="0.143" stop-color="#fff" stop-opacity="0.588"/><stop offset="0.214" stop-color="#fff" stop-opacity="0.524"/><stop offset="0.286" stop-color="#fff" stop-opacity="0.446"/><stop offset="0.357" stop-color="#fff" stop-opacity="0.363"/><stop offset="0.429" stop-color="#fff" stop-opacity="0.282"/><stop offset="0.500" stop-color="#fff" stop-opacity="0.209"/><stop offset="0.571" stop-color="#fff" stop-opacity="0.148"/><stop offset="0.643" stop-color="#fff" stop-opacity="0.100"/><stop offset="0.714" stop-color="#fff" stop-opacity="0.065"/><stop offset="0.786" stop-color="#fff" stop-opacity="0.040"/><stop offset="0.857" stop-color="#fff" stop-opacity="0.024"/><stop offset="0.929" stop-color="#fff" stop-opacity="0.013"/><stop offset="1.000" stop-color="#fff" stop-opacity="0.000"/></radialGradient>
<radialGradient id="g54"><stop offset="0.000" stop-color="#fff" stop-opacity="0.334"/><stop offset="0.071" stop-color="#fff" stop-opacity="0.326"/><stop offset="0.143" stop-color="#fff" stop-opacity="0.305"/><stop offset="0.214" stop-color="#fff" stop-opacity="0.272"/><stop offset="0.286" stop-color="#fff" stop-opacity="0.231"/><stop offset="0.357" stop-color="#fff" stop-opacity="0.188"/><stop offset="0.429" stop-color="#fff" stop-opacity="0.146"/><stop offset="0.500" stop-color="#fff" stop-opacity="0.108"/><stop offset="0.571" stop-color="#fff" stop-opacity="0.077"/><stop offset="0.643" stop-color="#fff" stop-opacity="0.052"/><stop offset="0.714" stop-color="#fff" stop-opacity="0.034"/><stop offset="0.786" stop-color="#fff" stop-opacity="0.021"/><stop offset="0.857" stop-color="#fff" stop-opacity="0.012"/><stop offset="0.929" stop-color="#fff" stop-opacity="0.007"/><stop offset="1.000" stop-color="#fff" stop-opacity="0.000"/></radialGradient>
<radialGradient id="g55"><stop offset="0.000" stop-color="#fff" stop-opacity="0.169"/><stop offset="0.071" stop-color="#fff" stop-opacity="0.165"/><stop offset="0.143" stop-color="#fff" stop-opacity="0.154"/><stop offset="0.214" stop-color="#fff" stop-opacity="0.137"/><stop offset="0.286" stop-color="#fff" stop-opacity="0.117"/><stop offset="0.357" stop-color="#fff" stop-opacity="0.095"/><stop offset="0.429" stop-color="#fff" stop-opacity="0.074"/><stop offset="0.500" stop-color="#fff" stop-opacity="0.055"/><stop offset="0.571" stop-color="#fff" stop-opacity="0.039"/><stop offset="0.643" stop-color="#fff" stop-opacity="0.026"/><stop offset="0.714" stop-color="#fff" stop-opacity="0.017"/><stop offset="0.786" stop-color="#fff" stop-opacity="0.011"/><stop offset="0.857" stop-color="#fff" stop-opacity="0.006"/><stop offset="0.929" stop-color="#fff" stop-opacity="0.003"/><stop offset="1.000" stop-color="#fff" stop-opacity="0.000"/></radialGradient>
<radialGradient id="g56"><stop offset="0.000" stop-color="#fff" stop-opacity="0.605"/><stop offset="0.071" stop-color="#fff" stop-opacity="0.591"/><stop offset="0.143" stop-color="#fff" stop-opacity="0.552"/><stop offset="0.214" stop-color="#fff" stop-opacity="0.492"/><stop offset="0.286" stop-color="#fff" stop-opacity="0.419"/><stop offset="0.357" stop-color="#fff" stop-opacity="0.341"/><stop offset="0.429" stop-color="#fff" stop-opacity="0.265"/><stop offset="0.500" stop-color="#fff" stop-opacity="0.196"/><stop offset="0.571" stop-color="#fff" stop-opacity="0.139"/><stop offset="0.643" stop-color="#fff" stop-opacity="0.094"/><stop offset="0.714" stop-color="#fff" stop-opacity="0.061"/><stop offset="0.786" stop-color="#fff" stop-opacity="0.038"/><stop offset="0.857" stop-color="#fff" stop-opacity="0.022"/><stop offset="0.929" stop-color="#fff" stop-opacity="0.012"/><stop offset="1.000" stop-color="#fff" stop-opacity="0.000"/></radialGradient>
<radialGradient id="g57"><stop offset="0.000" stop-color="#fff" stop-opacity="0.230"/><stop offset="0.071" stop-color="#fff" stop-opacity="0.225"/><stop offset="0.143" stop-color="#fff" stop-opacity="0.210"/><stop offset="0.214" stop-color="#fff" stop-opacity="0.187"/><stop offset="0.286" stop-color="#fff" stop-opacity="0.160"/><stop offset="0.357" stop-color="#fff" stop-opacity="0.130"/><stop offset="0.429" stop-color="#fff" stop-opacity="0.101"/><stop offset="0.500" stop-color="#fff" stop-opacity="0.075"/><stop offset="0.571" stop-color="#fff" stop-opacity="0.053"/><stop offset="0.643" stop-color="#fff" stop-opacity="0.036"/><stop offset="0.714" stop-color="#fff" stop-opacity="0.023"/><stop offset="0.786" stop-color="#fff" stop-opacity="0.014"/><stop offset="0.857" stop-color="#fff" stop-opacity="0.008"/><stop offset="0.929" stop-color="#fff" stop-opacity="0.005"/><stop offset="1.000" stop-color="#fff" stop-opacity="0.000"/></radialGradient>
<radialGradient id="g58"><stop offset="0.000" stop-color="#fff" stop-opacity="0.263"/><stop offset="0.071" stop-color="#fff" stop-opacity="0.257"/><stop offset="0.143" stop-color="#fff" stop-opacity="0.240"/><stop offset="0.214" stop-color="#fff" stop-opacity="0.214"/><stop offset="0.286" stop-color="#fff" stop-opacity="0.182"/><stop offset="0.357" stop-color="#fff" stop-opacity="0.148"/><stop offset="0.429" stop-color="#fff" stop-opacity="0.115"/><stop offset="0.500" stop-color="#fff" stop-opacity="0.085"/><stop offset="0.571" stop-color="#fff" stop-opacity="0.061"/><stop offset="0.643" stop-color="#fff" stop-opacity="0.041"/><stop offset="0.714" stop-color="#fff" stop-opacity="0.026"/><stop offset="0.786" stop-color="#fff" stop-opacity="0.016"/><stop offset="0.857" stop-color="#fff" stop-opacity="0.010"/><stop offset="0.929" stop-color="#fff" stop-opacity="0.005"/><stop offset="1.000" stop-color="#fff" stop-opacity="0.000"/></radialGradient>
<radialGradient id="g59"><stop offset="0.000" stop-color="#fff" stop-opacity="0.280"/><stop offset="0.071" stop-color="#fff" stop-opacity="0.273"/><stop offset="0.143" stop-color="#fff" stop-opacity="0.255"/><stop offset="0.214" stop-color="#fff" stop-opacity="0.228"/><stop offset="0.286" stop-color="#fff" stop-opacity="0.194"/><stop offset="0.357" stop-color="#fff" stop-opacity="0.158"/><stop offset="0.429" stop-color="#fff" stop-opacity="0.122"/><stop offset="0.500" stop-color="#fff" stop-opacity="0.091"/><stop offset="0.571" stop-color="#fff" stop-opacity="0.064"/><stop offset="0.643" stop-color="#fff" stop-opacity="0.044"/><stop offset="0.714" stop-color="#fff" stop-opacity="0.028"/><stop offset="0.786" stop-color="#fff" stop-opacity="0.017"/><stop offset="0.857" stop-color="#fff" stop-opacity="0.010"/><stop offset="0.929" stop-color="#fff" stop-opacity="0.006"/><stop offset="1.000" stop-color="#fff" stop-opacity="0.000"/></radialGradient>
<radialGradient id="g60"><stop offset="0.000" stop-color="#fff" stop-opacity="0.622"/><stop offset="0.071" stop-color="#fff" stop-opacity="0.608"/><stop offset="0.143" stop-color="#fff" stop-opacity="0.567"/><stop offset="0.214" stop-color="#fff" stop-opacity="0.506"/><stop offset="0.286" stop-color="#fff" stop-opacity="0.431"/><stop offset="0.357" stop-color="#fff" stop-opacity="0.350"/><stop offset="0.429" stop-color="#fff" stop-opacity="0.272"/><stop offset="0.500" stop-color="#fff" stop-opacity="0.202"/><stop offset="0.571" stop-color="#fff" stop-opacity="0.143"/><stop offset="0.643" stop-color="#fff" stop-opacity="0.097"/><stop offset="0.714" stop-color="#fff" stop-opacity="0.063"/><stop offset="0.786" stop-color="#fff" stop-opacity="0.039"/><stop offset="0.857" stop-color="#fff" stop-opacity="0.023"/><stop offset="0.929" stop-color="#fff" stop-opacity="0.013"/><stop offset="1.000" stop-color="#fff" stop-opacity="0.000"/></radialGradient>
<radialGradient id="g61"><stop offset="0.000" stop-color="#fff" stop-opacity="0.197"/><stop offset="0.071" stop-color="#fff" stop-opacity="0.193"/><stop offset="0.143" stop-color="#fff" stop-opacity="0.180"/><stop offset="0.214" stop-color="#fff" stop-opacity="0.160"/><stop offset="0.286" stop-color="#fff" stop-opacity="0.137"/><stop offset="0.357" stop-color="#fff" stop-opacity="0.111"/><stop offset="0.429" stop-color="#fff" stop-opacity="0.086"/><stop offset="0.500" stop-color="#fff" stop-opacity="0.064"/><stop offset="0.571" stop-color="#fff" stop-opacity="0.045"/><stop offset="0.643" stop-color="#fff" stop-opacity="0.031"/><stop offset="0.714" stop-color="#fff" stop-opacity="0.020"/><stop offset="0.786" stop-color="#fff" stop-opacity="0.012"/><stop offset="0.857" stop-color="#fff" stop-opacity="0.007"/><stop offset="0.929" stop-color="#fff" stop-opacity="0.004"/><stop offset="1.000" stop-color="#fff" stop-opacity="0.000"/></radialGradient>
<radialGradient id="g62"><stop offset="0.000" stop-color="#fff" stop-opacity="0.269"/><stop offset="0.071" stop-color="#fff" stop-opacity="0.263"/><stop offset="0.143" stop-color="#fff" stop-opacity="0.245"/><stop offset="0.214" stop-color="#fff" stop-opacity="0.219"/><stop offset="0.286" stop-color="#fff" stop-opacity="0.186"/><stop offset="0.357" stop-color="#fff" stop-opacity="0.151"/><stop offset="0.429" stop-color="#fff" stop-opacity="0.118"/><stop offset="0.500" stop-color="#fff" stop-opacity="0.087"/><stop offset="0.571" stop-color="#fff" stop-opacity="0.062"/><stop offset="0.643" stop-color="#fff" stop-opacity="0.042"/><stop offset="0.714" stop-color="#fff" stop-opacity="0.027"/><stop offset="0.786" stop-color="#fff" stop-opacity="0.017"/><stop offset="0.857" stop-color="#fff" stop-opacity="0.010"/><stop offset="0.929" stop-color="#fff" stop-opacity="0.006"/><stop offset="1.000" stop-color="#fff" stop-opacity="0.000"/></radialGradient>
<radialGradient id="g63"><stop offset="0.000" stop-color="#fff" stop-opacity="0.943"/><stop offset="0.071" stop-color="#fff" stop-opacity="0.921"/><stop offset="0.143" stop-color="#fff" stop-opacity="0.860"/><stop offset="0.214" stop-color="#fff" stop-opacity="0.767"/><stop offset="0.286" stop-color="#fff" stop-opacity="0.653"/><stop offset="0.357" stop-color="#fff" stop-opacity="0.531"/><stop offset="0.429" stop-color="#fff" stop-opacity="0.412"/><stop offset="0.500" stop-color="#fff" stop-opacity="0.306"/><stop offset="0.571" stop-color="#fff" stop-opacity="0.217"/><stop offset="0.643" stop-color="#fff" stop-opacity="0.147"/><stop offset="0.714" stop-color="#fff" stop-opacity="0.095"/><stop offset="0.786" stop-color="#fff" stop-opacity="0.059"/><stop offset="0.857" stop-color="#fff" stop-opacity="0.035"/><stop offset="0.929" stop-color="#fff" stop-opacity="0.019"/><stop offset="1.000" stop-color="#fff" stop-opacity="0.000"/></radialGradient>
<radialGradient id="g64"><stop offset="0.000" stop-color="#fff" stop-opacity="0.309"/><stop offset="0.071" stop-color="#fff" stop-opacity="0.302"/><stop offset="0.143" stop-color="#fff" stop-opacity="0.282"/><stop offset="0.214" stop-color="#fff" stop-opacity="0.251"/><stop offset="0.286" stop-color="#fff" stop-opacity="0.214"/><stop offset="0.357" stop-color="#fff" stop-opacity="0.174"/><stop offset="0.429" stop-color="#fff" stop-opacity="0.135"/><stop offset="0.500" stop-color="#fff" stop-opacity="0.100"/><stop offset="0.571" stop-color="#fff" stop-opacity="0.071"/><stop offset="0.643" stop-color="#fff" stop-opacity="0.048"/><stop offset="0.714" stop-color="#fff" stop-opacity="0.031"/><stop offset="0.786" stop-color="#fff" stop-opacity="0.019"/><stop offset="0.857" stop-color="#fff" stop-opacity="0.011"/><stop offset="0.929" stop-color="#fff" stop-opacity="0.006"/><stop offset="1.000" stop-color="#fff" stop-opacity="0.000"/></radialGradient>
<radialGradient id="g65"><stop offset="0.000" stop-color="#fff" stop-opacity="0.303"/><stop offset="0.071" stop-color="#fff" stop-opacity="0.296"/><stop offset="0.143" stop-color="#fff" stop-opacity="0.276"/><stop offset="0.214" stop-color="#fff" stop-opacity="0.246"/><stop offset="0.286" stop-color="#fff" stop-opacity="0.210"/><stop offset="0.357" stop-color="#fff" stop-opacity="0.171"/><stop offset="0.429" stop-color="#fff" stop-opacity="0.132"/><stop offset="0.500" stop-color="#fff" stop-opacity="0.098"/><stop offset="0.571" stop-color="#fff" stop-opacity="0.070"/><stop offset="0.643" stop-color="#fff" stop-opacity="0.047"/><stop offset="0.714" stop-color="#fff" stop-opacity="0.030"/><stop offset="0.786" stop-color="#fff" stop-opacity="0.019"/><stop offset="0.857" stop-color="#fff" stop-opacity="0.011"/><stop offset="0.929" stop-color="#fff" stop-opacity="0.006"/><stop offset="1.000" stop-color="#fff" stop-opacity="0.000"/></radialGradient>
<radialGradient id="g66"><stop offset="0.000" stop-color="#fff" stop-opacity="0.270"/><stop offset="0.071" stop-color="#fff" stop-opacity="0.264"/><stop offset="0.143" stop-color="#fff" stop-opacity="0.246"/><stop offset="0.214" stop-color="#fff" stop-opacity="0.219"/><stop offset="0.286" stop-color="#fff" stop-opacity="0.187"/><stop offset="0.357" stop-color="#fff" stop-opacity="0.152"/><stop offset="0.429" stop-color="#fff" stop-opacity="0.118"/><stop offset="0.500" stop-color="#fff" stop-opacity="0.088"/><stop offset="0.571" stop-color="#fff" stop-opacity="0.062"/><stop offset="0.643" stop-color="#fff" stop-opacity="0.042"/><stop offset="0.714" stop-color="#fff" stop-opacity="0.027"/><stop offset="0.786" stop-color="#fff" stop-opacity="0.017"/><stop offset="0.857" stop-color="#fff" stop-opacity="0.010"/><stop offset="0.929" stop-color="#fff" stop-opacity="0.006"/><stop offset="1.000" stop-color="#fff" stop-opacity="0.000"/></radialGradient>
<radialGradient id="g67"><stop offset="0.000" stop-color="#fff" stop-opacity="0.149"/><stop offset="0.071" stop-color="#fff" stop-opacity="0.145"/><stop offset="0.143" stop-color="#fff" stop-opacity="0.136"/><stop offset="0.214" stop-color="#fff" stop-opacity="0.121"/><stop offset="0.286" stop-color="#fff" stop-opacity="0.103"/><stop offset="0.357" stop-color="#fff" stop-opacity="0.084"/><stop offset="0.429" stop-color="#fff" stop-opacity="0.065"/><stop offset="0.500" stop-color="#fff" stop-opacity="0.048"/><stop offset="0.571" stop-color="#fff" stop-opacity="0.034"/><stop offset="0.643" stop-color="#fff" stop-opacity="0.023"/><stop offset="0.714" stop-color="#fff" stop-opacity="0.015"/><stop offset="0.786" stop-color="#fff" stop-opacity="0.009"/><stop offset="0.857" stop-color="#fff" stop-opacity="0.005"/><stop offset="0.929" stop-color="#fff" stop-opacity="0.003"/><stop offset="1.000" stop-color="#fff" stop-opacity="0.000"/></radialGradient>
<radialGradient id="g68"><stop offset="0.000" stop-color="#fff" stop-opacity="0.150"/><stop offset="0.071" stop-color="#fff" stop-opacity="0.146"/><stop offset="0.143" stop-color="#fff" stop-opacity="0.136"/><stop offset="0.214" stop-color="#fff" stop-opacity="0.122"/><stop offset="0.286" stop-color="#fff" stop-opacity="0.104"/><stop offset="0.357" stop-color="#fff" stop-opacity="0.084"/><stop offset="0.429" stop-color="#fff" stop-opacity="0.065"/><stop offset="0.500" stop-color="#fff" stop-opacity="0.049"/><stop offset="0.571" stop-color="#fff" stop-opacity="0.034"/><stop offset="0.643" stop-color="#fff" stop-opacity="0.023"/><stop offset="0.714" stop-color="#fff" stop-opacity="0.015"/><stop offset="0.786" stop-color="#fff" stop-opacity="0.009"/><stop offset="0.857" stop-color="#fff" stop-opacity="0.005"/><stop offset="0.929" stop-color="#fff" stop-opacity="0.003"/><stop offset="1.000" stop-color="#fff" stop-opacity="0.000"/></radialGradient>
<radialGradient id="g69"><stop offset="0.000" stop-color="#fff" stop-opacity="0.152"/><stop offset="0.071" stop-color="#fff" stop-opacity="0.149"/><stop offset="0.143" stop-color="#fff" stop-opacity="0.139"/><stop offset="0.214" stop-color="#fff" stop-opacity="0.124"/><stop offset="0.286" stop-color="#fff" stop-opacity="0.105"/><stop offset="0.357" stop-color="#fff" stop-opacity="0.086"/><stop offset="0.429" stop-color="#fff" stop-opacity="0.067"/><stop offset="0.500" stop-color="#fff" stop-opacity="0.049"/><stop offset="0.571" stop-color="#fff" stop-opacity="0.035"/><stop offset="0.643" stop-color="#fff" stop-opacity="0.024"/><stop offset="0.714" stop-color="#fff" stop-opacity="0.015"/><stop offset="0.786" stop-color="#fff" stop-opacity="0.009"/><stop offset="0.857" stop-color="#fff" stop-opacity="0.006"/><stop offset="0.929" stop-color="#fff" stop-opacity="0.003"/><stop offset="1.000" stop-color="#fff" stop-opacity="0.000"/></radialGradient>
<radialGradient id="g70"><stop offset="0.000" stop-color="#fff" stop-opacity="0.148"/><stop offset="0.071" stop-color="#fff" stop-opacity="0.144"/><stop offset="0.143" stop-color="#fff" stop-opacity="0.135"/><stop offset="0.214" stop-color="#fff" stop-opacity="0.120"/><stop offset="0.286" stop-color="#fff" stop-opacity="0.102"/><stop offset="0.357" stop-color="#fff" stop-opacity="0.083"/><stop offset="0.429" stop-color="#fff" stop-opacity="0.065"/><stop offset="0.500" stop-color="#fff" stop-opacity="0.048"/><stop offset="0.571" stop-color="#fff" stop-opacity="0.034"/><stop offset="0.643" stop-color="#fff" stop-opacity="0.023"/><stop offset="0.714" stop-color="#fff" stop-opacity="0.015"/><stop offset="0.786" stop-color="#fff" stop-opacity="0.009"/><stop offset="0.857" stop-color="#fff" stop-opacity="0.005"/><stop offset="0.929" stop-color="#fff" stop-opacity="0.003"/><stop offset="1.000" stop-color="#fff" stop-opacity="0.000"/></radialGradient>
<radialGradient id="g71"><stop offset="0.000" stop-color="#fff" stop-opacity="0.147"/><stop offset="0.071" stop-color="#fff" stop-opacity="0.143"/><stop offset="0.143" stop-color="#fff" stop-opacity="0.134"/><stop offset="0.214" stop-color="#fff" stop-opacity="0.119"/><stop offset="0.286" stop-color="#fff" stop-opacity="0.102"/><stop offset="0.357" stop-color="#fff" stop-opacity="0.083"/><stop offset="0.429" stop-color="#fff" stop-opacity="0.064"/><stop offset="0.500" stop-color="#fff" stop-opacity="0.048"/><stop offset="0.571" stop-color="#fff" stop-opacity="0.034"/><stop offset="0.643" stop-color="#fff" stop-opacity="0.023"/><stop offset="0.714" stop-color="#fff" stop-opacity="0.015"/><stop offset="0.786" stop-color="#fff" stop-opacity="0.009"/><stop offset="0.857" stop-color="#fff" stop-opacity="0.005"/><stop offset="0.929" stop-color="#fff" stop-opacity="0.003"/><stop offset="1.000" stop-color="#fff" stop-opacity="0.000"/></radialGradient>
<radialGradient id="g72"><stop offset="0.000" stop-color="#fff" stop-opacity="0.151"/><stop offset="0.071" stop-color="#fff" stop-opacity="0.147"/><stop offset="0.143" stop-color="#fff" stop-opacity="0.138"/><stop offset="0.214" stop-color="#fff" stop-opacity="0.123"/><stop offset="0.286" stop-color="#fff" stop-opacity="0.105"/><stop offset="0.357" stop-color="#fff" stop-opacity="0.085"/><stop offset="0.429" stop-color="#fff" stop-opacity="0.066"/><stop offset="0.500" stop-color="#fff" stop-opacity="0.049"/><stop offset="0.571" stop-color="#fff" stop-opacity="0.035"/><stop offset="0.643" stop-color="#fff" stop-opacity="0.024"/><stop offset="0.714" stop-color="#fff" stop-opacity="0.015"/><stop offset="0.786" stop-color="#fff" stop-opacity="0.009"/><stop offset="0.857" stop-color="#fff" stop-opacity="0.006"/><stop offset="0.929" stop-color="#fff" stop-opacity="0.003"/><stop offset="1.000" stop-color="#fff" stop-opacity="0.000"/></radialGradient>
<radialGradient id="g73"><stop offset="0.000" stop-color="#fff" stop-opacity="0.150"/><stop offset="0.071" stop-color="#fff" stop-opacity="0.146"/><stop offset="0.143" stop-color="#fff" stop-opacity="0.137"/><stop offset="0.214" stop-color="#fff" stop-opacity="0.122"/><stop offset="0.286" stop-color="#fff" stop-opacity="0.104"/><stop offset="0.357" stop-color="#fff" stop-opacity="0.084"/><stop offset="0.429" stop-color="#fff" stop-opacity="0.066"/><stop offset="0.500" stop-color="#fff" stop-opacity="0.049"/><stop offset="0.571" stop-color="#fff" stop-opacity="0.034"/><stop offset="0.643" stop-color="#fff" stop-opacity="0.023"/><stop offset="0.714" stop-color="#fff" stop-opacity="0.015"/><stop offset="0.786" stop-color="#fff" stop-opacity="0.009"/><stop offset="0.857" stop-color="#fff" stop-opacity="0.005"/><stop offset="0.929" stop-color="#fff" stop-opacity="0.003"/><stop offset="1.000" stop-color="#fff" stop-opacity="0.000"/></radialGradient>
<radialGradient id="g74"><stop offset="0.000" stop-color="#fff" stop-opacity="0.150"/><stop offset="0.071" stop-color="#fff" stop-opacity="0.146"/><stop offset="0.143" stop-color="#fff" stop-opacity="0.137"/><stop offset="0.214" stop-color="#fff" stop-opacity="0.122"/><stop offset="0.286" stop-color="#fff" stop-opacity="0.104"/><stop offset="0.357" stop-color="#fff" stop-opacity="0.084"/><stop offset="0.429" stop-color="#fff" stop-opacity="0.066"/><stop offset="0.500" stop-color="#fff" stop-opacity="0.049"/><stop offset="0.571" stop-color="#fff" stop-opacity="0.034"/><stop offset="0.643" stop-color="#fff" stop-opacity="0.023"/><stop offset="0.714" stop-color="#fff" stop-opacity="0.015"/><stop offset="0.786" stop-color="#fff" stop-opacity="0.009"/><stop offset="0.857" stop-color="#fff" stop-opacity="0.005"/><stop offset="0.929" stop-color="#fff" stop-opacity="0.003"/><stop offset="1.000" stop-color="#fff" stop-opacity="0.000"/></radialGradient>
<radialGradient id="g75"><stop offset="0.000" stop-color="#fff" stop-opacity="0.148"/><stop offset="0.071" stop-color="#fff" stop-opacity="0.145"/><stop offset="0.143" stop-color="#fff" stop-opacity="0.135"/><stop offset="0.214" stop-color="#fff" stop-opacity="0.120"/><stop offset="0.286" stop-color="#fff" stop-opacity="0.103"/><stop offset="0.357" stop-color="#fff" stop-opacity="0.083"/><stop offset="0.429" stop-color="#fff" stop-opacity="0.065"/><stop offset="0.500" stop-color="#fff" stop-opacity="0.048"/><stop offset="0.571" stop-color="#fff" stop-opacity="0.034"/><stop offset="0.643" stop-color="#fff" stop-opacity="0.023"/><stop offset="0.714" stop-color="#fff" stop-opacity="0.015"/><stop offset="0.786" stop-color="#fff" stop-opacity="0.009"/><stop offset="0.857" stop-color="#fff" stop-opacity="0.005"/><stop offset="0.929" stop-color="#fff" stop-opacity="0.003"/><stop offset="1.000" stop-color="#fff" stop-opacity="0.000"/></radialGradient>
<radialGradient id="g76"><stop offset="0.000" stop-color="#fff" stop-opacity="0.151"/><stop offset="0.071" stop-color="#fff" stop-opacity="0.148"/><stop offset="0.143" stop-color="#fff" stop-opacity="0.138"/><stop offset="0.214" stop-color="#fff" stop-opacity="0.123"/><stop offset="0.286" stop-color="#fff" stop-opacity="0.105"/><stop offset="0.357" stop-color="#fff" stop-opacity="0.085"/><stop offset="0.429" stop-color="#fff" stop-opacity="0.066"/><stop offset="0.500" stop-color="#fff" stop-opacity="0.049"/><stop offset="0.571" stop-color="#fff" stop-opacity="0.035"/><stop offset="0.643" stop-color="#fff" stop-opacity="0.024"/><stop offset="0.714" stop-color="#fff" stop-opacity="0.015"/><stop offset="0.786" stop-color="#fff" stop-opacity="0.009"/><stop offset="0.857" stop-color="#fff" stop-opacity="0.006"/><stop offset="0.929" stop-color="#fff" stop-opacity="0.003"/><stop offset="1.000" stop-color="#fff" stop-opacity="0.000"/></radialGradient>
<radialGradient id="g77"><stop offset="0.000" stop-color="#fff" stop-opacity="0.151"/><stop offset="0.071" stop-color="#fff" stop-opacity="0.147"/><stop offset="0.143" stop-color="#fff" stop-opacity="0.137"/><stop offset="0.214" stop-color="#fff" stop-opacity="0.122"/><stop offset="0.286" stop-color="#fff" stop-opacity="0.104"/><stop offset="0.357" stop-color="#fff" stop-opacity="0.085"/><stop offset="0.429" stop-color="#fff" stop-opacity="0.066"/><stop offset="0.500" stop-color="#fff" stop-opacity="0.049"/><stop offset="0.571" stop-color="#fff" stop-opacity="0.035"/><stop offset="0.643" stop-color="#fff" stop-opacity="0.023"/><stop offset="0.714" stop-color="#fff" stop-opacity="0.015"/><stop offset="0.786" stop-color="#fff" stop-opacity="0.009"/><stop offset="0.857" stop-color="#fff" stop-opacity="0.006"/><stop offset="0.929" stop-color="#fff" stop-opacity="0.003"/><stop offset="1.000" stop-color="#fff" stop-opacity="0.000"/></radialGradient>
<radialGradient id="g78"><stop offset="0.000" stop-color="#fff" stop-opacity="0.150"/><stop offset="0.071" stop-color="#fff" stop-opacity="0.147"/><stop offset="0.143" stop-color="#fff" stop-opacity="0.137"/><stop offset="0.214" stop-color="#fff" stop-opacity="0.122"/><stop offset="0.286" stop-color="#fff" stop-opacity="0.104"/><stop offset="0.357" stop-color="#fff" stop-opacity="0.085"/><stop offset="0.429" stop-color="#fff" stop-opacity="0.066"/><stop offset="0.500" stop-color="#fff" stop-opacity="0.049"/><stop offset="0.571" stop-color="#fff" stop-opacity="0.035"/><stop offset="0.643" stop-color="#fff" stop-opacity="0.023"/><stop offset="0.714" stop-color="#fff" stop-opacity="0.015"/><stop offset="0.786" stop-color="#fff" stop-opacity="0.009"/><stop offset="0.857" stop-color="#fff" stop-opacity="0.006"/><stop offset="0.929" stop-color="#fff" stop-opacity="0.003"/><stop offset="1.000" stop-color="#fff" stop-opacity="0.000"/></radialGradient>
<radialGradient id="g79"><stop offset="0.000" stop-color="#fff" stop-opacity="0.137"/><stop offset="0.071" stop-color="#fff" stop-opacity="0.134"/><stop offset="0.143" stop-color="#fff" stop-opacity="0.125"/><stop offset="0.214" stop-color="#fff" stop-opacity="0.112"/><stop offset="0.286" stop-color="#fff" stop-opacity="0.095"/><stop offset="0.357" stop-color="#fff" stop-opacity="0.077"/><stop offset="0.429" stop-color="#fff" stop-opacity="0.060"/><stop offset="0.500" stop-color="#fff" stop-opacity="0.045"/><stop offset="0.571" stop-color="#fff" stop-opacity="0.032"/><stop offset="0.643" stop-color="#fff" stop-opacity="0.021"/><stop offset="0.714" stop-color="#fff" stop-opacity="0.014"/><stop offset="0.786" stop-color="#fff" stop-opacity="0.009"/><stop offset="0.857" stop-color="#fff" stop-opacity="0.005"/><stop offset="0.929" stop-color="#fff" stop-opacity="0.003"/><stop offset="1.000" stop-color="#fff" stop-opacity="0.000"/></radialGradient>
<radialGradient id="g80"><stop offset="0.000" stop-color="#fff" stop-opacity="0.148"/><stop offset="0.071" stop-color="#fff" stop-opacity="0.145"/><stop offset="0.143" stop-color="#fff" stop-opacity="0.135"/><stop offset="0.214" stop-color="#fff" stop-opacity="0.120"/><stop offset="0.286" stop-color="#fff" stop-opacity="0.103"/><stop offset="0.357" stop-color="#fff" stop-opacity="0.083"/><stop offset="0.429" stop-color="#fff" stop-opacity="0.065"/><stop offset="0.500" stop-color="#fff" stop-opacity="0.048"/><stop offset="0.571" stop-color="#fff" stop-opacity="0.034"/><stop offset="0.643" stop-color="#fff" stop-opacity="0.023"/><stop offset="0.714" stop-color="#fff" stop-opacity="0.015"/><stop offset="0.786" stop-color="#fff" stop-opacity="0.009"/><stop offset="0.857" stop-color="#fff" stop-opacity="0.005"/><stop offset="0.929" stop-color="#fff" stop-opacity="0.003"/><stop offset="1.000" stop-color="#fff" stop-opacity="0.000"/></radialGradient>
<radialGradient id="g81"><stop offset="0.000" stop-color="#fff" stop-opacity="0.152"/><stop offset="0.071" stop-color="#fff" stop-opacity="0.149"/><stop offset="0.143" stop-color="#fff" stop-opacity="0.139"/><stop offset="0.214" stop-color="#fff" stop-opacity="0.124"/><stop offset="0.286" stop-color="#fff" stop-opacity="0.106"/><stop offset="0.357" stop-color="#fff" stop-opacity="0.086"/><stop offset="0.429" stop-color="#fff" stop-opacity="0.067"/><stop offset="0.500" stop-color="#fff" stop-opacity="0.049"/><stop offset="0.571" stop-color="#fff" stop-opacity="0.035"/><stop offset="0.643" stop-color="#fff" stop-opacity="0.024"/><stop offset="0.714" stop-color="#fff" stop-opacity="0.015"/><stop offset="0.786" stop-color="#fff" stop-opacity="0.009"/><stop offset="0.857" stop-color="#fff" stop-opacity="0.006"/><stop offset="0.929" stop-color="#fff" stop-opacity="0.003"/><stop offset="1.000" stop-color="#fff" stop-opacity="0.000"/></radialGradient>
<radialGradient id="g82"><stop offset="0.000" stop-color="#fff" stop-opacity="0.150"/><stop offset="0.071" stop-color="#fff" stop-opacity="0.147"/><stop offset="0.143" stop-color="#fff" stop-opacity="0.137"/><stop offset="0.214" stop-color="#fff" stop-opacity="0.122"/><stop offset="0.286" stop-color="#fff" stop-opacity="0.104"/><stop offset="0.357" stop-color="#fff" stop-opacity="0.084"/><stop offset="0.429" stop-color="#fff" stop-opacity="0.066"/><stop offset="0.500" stop-color="#fff" stop-opacity="0.049"/><stop offset="0.571" stop-color="#fff" stop-opacity="0.035"/><stop offset="0.643" stop-color="#fff" stop-opacity="0.023"/><stop offset="0.714" stop-color="#fff" stop-opacity="0.015"/><stop offset="0.786" stop-color="#fff" stop-opacity="0.009"/><stop offset="0.857" stop-color="#fff" stop-opacity="0.005"/><stop offset="0.929" stop-color="#fff" stop-opacity="0.003"/><stop offset="1.000" stop-color="#fff" stop-opacity="0.000"/></radialGradient>
<radialGradient id="g83"><stop offset="0.000" stop-color="#fff" stop-opacity="0.136"/><stop offset="0.071" stop-color="#fff" stop-opacity="0.133"/><stop offset="0.143" stop-color="#fff" stop-opacity="0.124"/><stop offset="0.214" stop-color="#fff" stop-opacity="0.111"/><stop offset="0.286" stop-color="#fff" stop-opacity="0.094"/><stop offset="0.357" stop-color="#fff" stop-opacity="0.077"/><stop offset="0.429" stop-color="#fff" stop-opacity="0.060"/><stop offset="0.500" stop-color="#fff" stop-opacity="0.044"/><stop offset="0.571" stop-color="#fff" stop-opacity="0.031"/><stop offset="0.643" stop-color="#fff" stop-opacity="0.021"/><stop offset="0.714" stop-color="#fff" stop-opacity="0.014"/><stop offset="0.786" stop-color="#fff" stop-opacity="0.008"/><stop offset="0.857" stop-color="#fff" stop-opacity="0.005"/><stop offset="0.929" stop-color="#fff" stop-opacity="0.003"/><stop offset="1.000" stop-color="#fff" stop-opacity="0.000"/></radialGradient>
<radialGradient id="g84"><stop offset="0.000" stop-color="#fff" stop-opacity="0.134"/><stop offset="0.071" stop-color="#fff" stop-opacity="0.131"/><stop offset="0.143" stop-color="#fff" stop-opacity="0.122"/><stop offset="0.214" stop-color="#fff" stop-opacity="0.109"/><stop offset="0.286" stop-color="#fff" stop-opacity="0.093"/><stop offset="0.357" stop-color="#fff" stop-opacity="0.076"/><stop offset="0.429" stop-color="#fff" stop-opacity="0.059"/><stop offset="0.500" stop-color="#fff" stop-opacity="0.044"/><stop offset="0.571" stop-color="#fff" stop-opacity="0.031"/><stop offset="0.643" stop-color="#fff" stop-opacity="0.021"/><stop offset="0.714" stop-color="#fff" stop-opacity="0.013"/><stop offset="0.786" stop-color="#fff" stop-opacity="0.008"/><stop offset="0.857" stop-color="#fff" stop-opacity="0.005"/><stop offset="0.929" stop-color="#fff" stop-opacity="0.003"/><stop offset="1.000" stop-color="#fff" stop-opacity="0.000"/></radialGradient>
<radialGradient id="g85"><stop offset="0.000" stop-color="#fff" stop-opacity="0.143"/><stop offset="0.071" stop-color="#fff" stop-opacity="0.140"/><stop offset="0.143" stop-color="#fff" stop-opacity="0.131"/><stop offset="0.214" stop-color="#fff" stop-opacity="0.117"/><stop offset="0.286" stop-color="#fff" stop-opacity="0.099"/><stop offset="0.357" stop-color="#fff" stop-opacity="0.081"/><stop offset="0.429" stop-color="#fff" stop-opacity="0.063"/><stop offset="0.500" stop-color="#fff" stop-opacity="0.047"/><stop offset="0.571" stop-color="#fff" stop-opacity="0.033"/><stop offset="0.643" stop-color="#fff" stop-opacity="0.022"/><stop offset="0.714" stop-color="#fff" stop-opacity="0.014"/><stop offset="0.786" stop-color="#fff" stop-opacity="0.009"/><stop offset="0.857" stop-color="#fff" stop-opacity="0.005"/><stop offset="0.929" stop-color="#fff" stop-opacity="0.003"/><stop offset="1.000" stop-color="#fff" stop-opacity="0.000"/></radialGradient>
<radialGradient id="g86"><stop offset="0.000" stop-color="#fff" stop-opacity="0.142"/><stop offset="0.071" stop-color="#fff" stop-opacity="0.139"/><stop offset="0.143" stop-color="#fff" stop-opacity="0.130"/><stop offset="0.214" stop-color="#fff" stop-opacity="0.116"/><stop offset="0.286" stop-color="#fff" stop-opacity="0.098"/><stop offset="0.357" stop-color="#fff" stop-opacity="0.080"/><stop offset="0.429" stop-color="#fff" stop-opacity="0.062"/><stop offset="0.500" stop-color="#fff" stop-opacity="0.046"/><stop offset="0.571" stop-color="#fff" stop-opacity="0.033"/><stop offset="0.643" stop-color="#fff" stop-opacity="0.022"/><stop offset="0.714" stop-color="#fff" stop-opacity="0.014"/><stop offset="0.786" stop-color="#fff" stop-opacity="0.009"/><stop offset="0.857" stop-color="#fff" stop-opacity="0.005"/><stop offset="0.929" stop-color="#fff" stop-opacity="0.003"/><stop offset="1.000" stop-color="#fff" stop-opacity="0.000"/></radialGradient>
<radialGradient id="g87"><stop offset="0.000" stop-color="#fff" stop-opacity="0.148"/><stop offset="0.071" stop-color="#fff" stop-opacity="0.144"/><stop offset="0.143" stop-color="#fff" stop-opacity="0.135"/><stop offset="0.214" stop-color="#fff" stop-opacity="0.120"/><stop offset="0.286" stop-color="#fff" stop-opacity="0.102"/><stop offset="0.357" stop-color="#fff" stop-opacity="0.083"/><stop offset="0.429" stop-color="#fff" stop-opacity="0.065"/><stop offset="0.500" stop-color="#fff" stop-opacity="0.048"/><stop offset="0.571" stop-color="#fff" stop-opacity="0.034"/><stop offset="0.643" stop-color="#fff" stop-opacity="0.023"/><stop offset="0.714" stop-color="#fff" stop-opacity="0.015"/><stop offset="0.786" stop-color="#fff" stop-opacity="0.009"/><stop offset="0.857" stop-color="#fff" stop-opacity="0.005"/><stop offset="0.929" stop-color="#fff" stop-opacity="0.003"/><stop offset="1.000" stop-color="#fff" stop-opacity="0.000"/></radialGradient>
<radialGradient id="g88"><stop offset="0.000" stop-color="#fff" stop-opacity="0.138"/><stop offset="0.071" stop-color="#fff" stop-opacity="0.135"/><stop offset="0.143" stop-color="#fff" stop-opacity="0.126"/><stop offset="0.214" stop-color="#fff" stop-opacity="0.113"/><stop offset="0.286" stop-color="#fff" stop-opacity="0.096"/><stop offset="0.357" stop-color="#fff" stop-opacity="0.078"/><stop offset="0.429" stop-color="#fff" stop-opacity="0.061"/><stop offset="0.500" stop-color="#fff" stop-opacity="0.045"/><stop offset="0.571" stop-color="#fff" stop-opacity="0.032"/><stop offset="0.643" stop-color="#fff" stop-opacity="0.022"/><stop offset="0.714" stop-color="#fff" stop-opacity="0.014"/><stop offset="0.786" stop-color="#fff" stop-opacity="0.009"/><stop offset="0.857" stop-color="#fff" stop-opacity="0.005"/><stop offset="0.929" stop-color="#fff" stop-opacity="0.003"/><stop offset="1.000" stop-color="#fff" stop-opacity="0.000"/></radialGradient>
<radialGradient id="g89"><stop offset="0.000" stop-color="#fff" stop-opacity="0.143"/><stop offset="0.071" stop-color="#fff" stop-opacity="0.140"/><stop offset="0.143" stop-color="#fff" stop-opacity="0.130"/><stop offset="0.214" stop-color="#fff" stop-opacity="0.116"/><stop offset="0.286" stop-color="#fff" stop-opacity="0.099"/><stop offset="0.357" stop-color="#fff" stop-opacity="0.081"/><stop offset="0.429" stop-color="#fff" stop-opacity="0.063"/><stop offset="0.500" stop-color="#fff" stop-opacity="0.046"/><stop offset="0.571" stop-color="#fff" stop-opacity="0.033"/><stop offset="0.643" stop-color="#fff" stop-opacity="0.022"/><stop offset="0.714" stop-color="#fff" stop-opacity="0.014"/><stop offset="0.786" stop-color="#fff" stop-opacity="0.009"/><stop offset="0.857" stop-color="#fff" stop-opacity="0.005"/><stop offset="0.929" stop-color="#fff" stop-opacity="0.003"/><stop offset="1.000" stop-color="#fff" stop-opacity="0.000"/></radialGradient>
<radialGradient id="g90"><stop offset="0.000" stop-color="#fff" stop-opacity="0.142"/><stop offset="0.071" stop-color="#fff" stop-opacity="0.139"/><stop offset="0.143" stop-color="#fff" stop-opacity="0.129"/><stop offset="0.214" stop-color="#fff" stop-opacity="0.115"/><stop offset="0.286" stop-color="#fff" stop-opacity="0.098"/><stop offset="0.357" stop-color="#fff" stop-opacity="0.080"/><stop offset="0.429" stop-color="#fff" stop-opacity="0.062"/><stop offset="0.500" stop-color="#fff" stop-opacity="0.046"/><stop offset="0.571" stop-color="#fff" stop-opacity="0.033"/><stop offset="0.643" stop-color="#fff" stop-opacity="0.022"/><stop offset="0.714" stop-color="#fff" stop-opacity="0.014"/><stop offset="0.786" stop-color="#fff" stop-opacity="0.009"/><stop offset="0.857" stop-color="#fff" stop-opacity="0.005"/><stop offset="0.929" stop-color="#fff" stop-opacity="0.003"/><stop offset="1.000" stop-color="#fff" stop-opacity="0.000"/></radialGradient>
<radialGradient id="g91"><stop offset="0.000" stop-color="#fff" stop-opacity="0.151"/><stop offset="0.071" stop-color="#fff" stop-opacity="0.147"/><stop offset="0.143" stop-color="#fff" stop-opacity="0.137"/><stop offset="0.214" stop-color="#fff" stop-opacity="0.122"/><stop offset="0.286" stop-color="#fff" stop-opacity="0.104"/><stop offset="0.357" stop-color="#fff" stop-opacity="0.085"/><stop offset="0.429" stop-color="#fff" stop-opacity="0.066"/><stop offset="0.500" stop-color="#fff" stop-opacity="0.049"/><stop offset="0.571" stop-color="#fff" stop-opacity="0.035"/><stop offset="0.643" stop-color="#fff" stop-opacity="0.023"/><stop offset="0.714" stop-color="#fff" stop-opacity="0.015"/><stop offset="0.786" stop-color="#fff" stop-opacity="0.009"/><stop offset="0.857" stop-color="#fff" stop-opacity="0.006"/><stop offset="0.929" stop-color="#fff" stop-opacity="0.003"/><stop offset="1.000" stop-color="#fff" stop-opacity="0.000"/></radialGradient>
<radialGradient id="g92"><stop offset="0.000" stop-color="#fff" stop-opacity="0.147"/><stop offset="0.071" stop-color="#fff" stop-opacity="0.143"/><stop offset="0.143" stop-color="#fff" stop-opacity="0.134"/><stop offset="0.214" stop-color="#fff" stop-opacity="0.119"/><stop offset="0.286" stop-color="#fff" stop-opacity="0.102"/><stop offset="0.357" stop-color="#fff" stop-opacity="0.083"/><stop offset="0.429" stop-color="#fff" stop-opacity="0.064"/><stop offset="0.500" stop-color="#fff" stop-opacity="0.048"/><stop offset="0.571" stop-color="#fff" stop-opacity="0.034"/><stop offset="0.643" stop-color="#fff" stop-opacity="0.023"/><stop offset="0.714" stop-color="#fff" stop-opacity="0.015"/><stop offset="0.786" stop-color="#fff" stop-opacity="0.009"/><stop offset="0.857" stop-color="#fff" stop-opacity="0.005"/><stop offset="0.929" stop-color="#fff" stop-opacity="0.003"/><stop offset="1.000" stop-color="#fff" stop-opacity="0.000"/></radialGradient>
<radialGradient id="g93"><stop offset="0.000" stop-color="#fff" stop-opacity="0.152"/><stop offset="0.071" stop-color="#fff" stop-opacity="0.148"/><stop offset="0.143" stop-color="#fff" stop-opacity="0.138"/><stop offset="0.214" stop-color="#fff" stop-opacity="0.123"/><stop offset="0.286" stop-color="#fff" stop-opacity="0.105"/><stop offset="0.357" stop-color="#fff" stop-opacity="0.085"/><stop offset="0.429" stop-color="#fff" stop-opacity="0.066"/><stop offset="0.500" stop-color="#fff" stop-opacity="0.049"/><stop offset="0.571" stop-color="#fff" stop-opacity="0.035"/><stop offset="0.643" stop-color="#fff" stop-opacity="0.024"/><stop offset="0.714" stop-color="#fff" stop-opacity="0.015"/><stop offset="0.786" stop-color="#fff" stop-opacity="0.009"/><stop offset="0.857" stop-color="#fff" stop-opacity="0.006"/><stop offset="0.929" stop-color="#fff" stop-opacity="0.003"/><stop offset="1.000" stop-color="#fff" stop-opacity="0.000"/></radialGradient>
<radialGradient id="g94"><stop offset="0.000" stop-color="#fff" stop-opacity="0.154"/><stop offset="0.071" stop-color="#fff" stop-opacity="0.150"/><stop offset="0.143" stop-color="#fff" stop-opacity="0.140"/><stop offset="0.214" stop-color="#fff" stop-opacity="0.125"/><stop offset="0.286" stop-color="#fff" stop-opacity="0.106"/><stop offset="0.357" stop-color="#fff" stop-opacity="0.087"/><stop offset="0.429" stop-color="#fff" stop-opacity="0.067"/><stop offset="0.500" stop-color="#fff" stop-opacity="0.050"/><stop offset="0.571" stop-color="#fff" stop-opacity="0.035"/><stop offset="0.643" stop-color="#fff" stop-opacity="0.024"/><stop offset="0.714" stop-color="#fff" stop-opacity="0.015"/><stop offset="0.786" stop-color="#fff" stop-opacity="0.010"/><stop offset="0.857" stop-color="#fff" stop-opacity="0.006"/><stop offset="0.929" stop-color="#fff" stop-opacity="0.003"/><stop offset="1.000" stop-color="#fff" stop-opacity="0.000"/></radialGradient>
<radialGradient id="g95"><stop offset="0.000" stop-color="#fff" stop-opacity="0.143"/><stop offset="0.071" stop-color="#fff" stop-opacity="0.140"/><stop offset="0.143" stop-color="#fff" stop-opacity="0.130"/><stop offset="0.214" stop-color="#fff" stop-opacity="0.116"/><stop offset="0.286" stop-color="#fff" stop-opacity="0.099"/><stop offset="0.357" stop-color="#fff" stop-opacity="0.080"/><stop offset="0.429" stop-color="#fff" stop-opacity="0.063"/><stop offset="0.500" stop-color="#fff" stop-opacity="0.046"/><stop offset="0.571" stop-color="#fff" stop-opacity="0.033"/><stop offset="0.643" stop-color="#fff" stop-opacity="0.022"/><stop offset="0.714" stop-color="#fff" stop-opacity="0.014"/><stop offset="0.786" stop-color="#fff" stop-opacity="0.009"/><stop offset="0.857" stop-color="#fff" stop-opacity="0.005"/><stop offset="0.929" stop-color="#fff" stop-opacity="0.003"/><stop offset="1.000" stop-color="#fff" stop-opacity="0.000"/></radialGradient>
<radialGradient id="g96"><stop offset="0.000" stop-color="#fff" stop-opacity="0.147"/><stop offset="0.071" stop-color="#fff" stop-opacity="0.143"/><stop offset="0.143" stop-color="#fff" stop-opacity="0.134"/><stop offset="0.214" stop-color="#fff" stop-opacity="0.119"/><stop offset="0.286" stop-color="#fff" stop-opacity="0.102"/><stop offset="0.357" stop-color="#fff" stop-opacity="0.083"/><stop offset="0.429" stop-color="#fff" stop-opacity="0.064"/><stop offset="0.500" stop-color="#fff" stop-opacity="0.048"/><stop offset="0.571" stop-color="#fff" stop-opacity="0.034"/><stop offset="0.643" stop-color="#fff" stop-opacity="0.023"/><stop offset="0.714" stop-color="#fff" stop-opacity="0.015"/><stop offset="0.786" stop-color="#fff" stop-opacity="0.009"/><stop offset="0.857" stop-color="#fff" stop-opacity="0.005"/><stop offset="0.929" stop-color="#fff" stop-opacity="0.003"/><stop offset="1.000" stop-color="#fff" stop-opacity="0.000"/></radialGradient>
<radialGradient id="g97"><stop offset="0.000" stop-color="#fff" stop-opacity="0.147"/><stop offset="0.071" stop-color="#fff" stop-opacity="0.144"/><stop offset="0.143" stop-color="#fff" stop-opacity="0.134"/><stop offset="0.214" stop-color="#fff" stop-opacity="0.119"/><stop offset="0.286" stop-color="#fff" stop-opacity="0.102"/><stop offset="0.357" stop-color="#fff" stop-opacity="0.083"/><stop offset="0.429" stop-color="#fff" stop-opacity="0.064"/><stop offset="0.500" stop-color="#fff" stop-opacity="0.048"/><stop offset="0.571" stop-color="#fff" stop-opacity="0.034"/><stop offset="0.643" stop-color="#fff" stop-opacity="0.023"/><stop offset="0.714" stop-color="#fff" stop-opacity="0.015"/><stop offset="0.786" stop-color="#fff" stop-opacity="0.009"/><stop offset="0.857" stop-color="#fff" stop-opacity="0.005"/><stop offset="0.929" stop-color="#fff" stop-opacity="0.003"/><stop offset="1.000" stop-color="#fff" stop-opacity="0.000"/></radialGradient>
<radialGradient id="g98"><stop offset="0.000" stop-color="#fff" stop-opacity="0.148"/><stop offset="0.071" stop-color="#fff" stop-opacity="0.145"/><stop offset="0.143" stop-color="#fff" stop-opacity="0.135"/><stop offset="0.214" stop-color="#fff" stop-opacity="0.121"/><stop offset="0.286" stop-color="#fff" stop-opacity="0.103"/><stop offset="0.357" stop-color="#fff" stop-opacity="0.084"/><stop offset="0.429" stop-color="#fff" stop-opacity="0.065"/><stop offset="0.500" stop-color="#fff" stop-opacity="0.048"/><stop offset="0.571" stop-color="#fff" stop-opacity="0.034"/><stop offset="0.643" stop-color="#fff" stop-opacity="0.023"/><stop offset="0.714" stop-color="#fff" stop-opacity="0.015"/><stop offset="0.786" stop-color="#fff" stop-opacity="0.009"/><stop offset="0.857" stop-color="#fff" stop-opacity="0.005"/><stop offset="0.929" stop-color="#fff" stop-opacity="0.003"/><stop offset="1.000" stop-color="#fff" stop-opacity="0.000"/></radialGradient>
<radialGradient id="g99"><stop offset="0.000" stop-color="#fff" stop-opacity="0.149"/><stop offset="0.071" stop-color="#fff" stop-opacity="0.146"/><stop offset="0.143" stop-color="#fff" stop-opacity="0.136"/><stop offset="0.214" stop-color="#fff" stop-opacity="0.121"/><stop offset="0.286" stop-color="#fff" stop-opacity="0.103"/><stop offset="0.357" stop-color="#fff" stop-opacity="0.084"/><stop offset="0.429" stop-color="#fff" stop-opacity="0.065"/><stop offset="0.500" stop-color="#fff" stop-opacity="0.048"/><stop offset="0.571" stop-color="#fff" stop-opacity="0.034"/><stop offset="0.643" stop-color="#fff" stop-opacity="0.023"/><stop offset="0.714" stop-color="#fff" stop-opacity="0.015"/><stop offset="0.786" stop-color="#fff" stop-opacity="0.009"/><stop offset="0.857" stop-color="#fff" stop-opacity="0.005"/><stop offset="0.929" stop-color="#fff" stop-opacity="0.003"/><stop offset="1.000" stop-color="#fff" stop-opacity="0.000"/></radialGradient>
<radialGradient id="g100"><stop offset="0.000" stop-color="#fff" stop-opacity="0.142"/><stop offset="0.071" stop-color="#fff" stop-opacity="0.139"/><stop offset="0.143" stop-color="#fff" stop-opacity="0.130"/><stop offset="0.214" stop-color="#fff" stop-opacity="0.116"/><stop offset="0.286" stop-color="#fff" stop-opacity="0.099"/><stop offset="0.357" stop-color="#fff" stop-opacity="0.080"/><stop offset="0.429" stop-color="#fff" stop-opacity="0.062"/><stop offset="0.500" stop-color="#fff" stop-opacity="0.046"/><stop offset="0.571" stop-color="#fff" stop-opacity="0.033"/><stop offset="0.643" stop-color="#fff" stop-opacity="0.022"/><stop offset="0.714" stop-color="#fff" stop-opacity="0.014"/><stop offset="0.786" stop-color="#fff" stop-opacity="0.009"/><stop offset="0.857" stop-color="#fff" stop-opacity="0.005"/><stop offset="0.929" stop-color="#fff" stop-opacity="0.003"/><stop offset="1.000" stop-color="#fff" stop-opacity="0.000"/></radialGradient>
<radialGradient id="g101"><stop offset="0.000" stop-color="#fff" stop-opacity="0.151"/><stop offset="0.071" stop-color="#fff" stop-opacity="0.148"/><stop offset="0.143" stop-color="#fff" stop-opacity="0.138"/><stop offset="0.214" stop-color="#fff" stop-opacity="0.123"/><stop offset="0.286" stop-color="#fff" stop-opacity="0.105"/><stop offset="0.357" stop-color="#fff" stop-opacity="0.085"/><stop offset="0.429" stop-color="#fff" stop-opacity="0.066"/><stop offset="0.500" stop-color="#fff" stop-opacity="0.049"/><stop offset="0.571" stop-color="#fff" stop-opacity="0.035"/><stop offset="0.643" stop-color="#fff" stop-opacity="0.024"/><stop offset="0.714" stop-color="#fff" stop-opacity="0.015"/><stop offset="0.786" stop-color="#fff" stop-opacity="0.009"/><stop offset="0.857" stop-color="#fff" stop-opacity="0.006"/><stop offset="0.929" stop-color="#fff" stop-opacity="0.003"/><stop offset="1.000" stop-color="#fff" stop-opacity="0.000"/></radialGradient>
<radialGradient id="g102"><stop offset="0.000" stop-color="#fff" stop-opacity="0.152"/><stop offset="0.071" stop-color="#fff" stop-opacity="0.148"/><stop offset="0.143" stop-color="#fff" stop-opacity="0.139"/><stop offset="0.214" stop-color="#fff" stop-opacity="0.124"/><stop offset="0.286" stop-color="#fff" stop-opacity="0.105"/><stop offset="0.357" stop-color="#fff" stop-opacity="0.086"/><stop offset="0.429" stop-color="#fff" stop-opacity="0.066"/><stop offset="0.500" stop-color="#fff" stop-opacity="0.049"/><stop offset="0.571" stop-color="#fff" stop-opacity="0.035"/><stop offset="0.643" stop-color="#fff" stop-opacity="0.024"/><stop offset="0.714" stop-color="#fff" stop-opacity="0.015"/><stop offset="0.786" stop-color="#fff" stop-opacity="0.009"/><stop offset="0.857" stop-color="#fff" stop-opacity="0.006"/><stop offset="0.929" stop-color="#fff" stop-opacity="0.003"/><stop offset="1.000" stop-color="#fff" stop-opacity="0.000"/></radialGradient>
<radialGradient id="g103"><stop offset="0.000" stop-color="#fff" stop-opacity="0.149"/><stop offset="0.071" stop-color="#fff" stop-opacity="0.146"/><stop offset="0.143" stop-color="#fff" stop-opacity="0.136"/><stop offset="0.214" stop-color="#fff" stop-opacity="0.121"/><stop offset="0.286" stop-color="#fff" stop-opacity="0.103"/><stop offset="0.357" stop-color="#fff" stop-opacity="0.084"/><stop offset="0.429" stop-color="#fff" stop-opacity="0.065"/><stop offset="0.500" stop-color="#fff" stop-opacity="0.048"/><stop offset="0.571" stop-color="#fff" stop-opacity="0.034"/><stop offset="0.643" stop-color="#fff" stop-opacity="0.023"/><stop offset="0.714" stop-color="#fff" stop-opacity="0.015"/><stop offset="0.786" stop-color="#fff" stop-opacity="0.009"/><stop offset="0.857" stop-color="#fff" stop-opacity="0.005"/><stop offset="0.929" stop-color="#fff" stop-opacity="0.003"/><stop offset="1.000" stop-color="#fff" stop-opacity="0.000"/></radialGradient>
<radialGradient id="g104"><stop offset="0.000" stop-color="#fff" stop-opacity="0.150"/><stop offset="0.071" stop-color="#fff" stop-opacity="0.147"/><stop offset="0.143" stop-color="#fff" stop-opacity="0.137"/><stop offset="0.214" stop-color="#fff" stop-opacity="0.122"/><stop offset="0.286" stop-color="#fff" stop-opacity="0.104"/><stop offset="0.357" stop-color="#fff" stop-opacity="0.085"/><stop offset="0.429" stop-color="#fff" stop-opacity="0.066"/><stop offset="0.500" stop-color="#fff" stop-opacity="0.049"/><stop offset="0.571" stop-color="#fff" stop-opacity="0.035"/><stop offset="0.643" stop-color="#fff" stop-opacity="0.023"/><stop offset="0.714" stop-color="#fff" stop-opacity="0.015"/><stop offset="0.786" stop-color="#fff" stop-opacity="0.009"/><stop offset="0.857" stop-color="#fff" stop-opacity="0.006"/><stop offset="0.929" stop-color="#fff" stop-opacity="0.003"/><stop offset="1.000" stop-color="#fff" stop-opacity="0.000"/></radialGradient>
<radialGradient id="g105"><stop offset="0.000" stop-color="#fff" stop-opacity="0.150"/><stop offset="0.071" stop-color="#fff" stop-opacity="0.146"/><stop offset="0.143" stop-color="#fff" stop-opacity="0.137"/><stop offset="0.214" stop-color="#fff" stop-opacity="0.122"/><stop offset="0.286" stop-color="#fff" stop-opacity="0.104"/><stop offset="0.357" stop-color="#fff" stop-opacity="0.084"/><stop offset="0.429" stop-color="#fff" stop-opacity="0.066"/><stop offset="0.500" stop-color="#fff" stop-opacity="0.049"/><stop offset="0.571" stop-color="#fff" stop-opacity="0.034"/><stop offset="0.643" stop-color="#fff" stop-opacity="0.023"/><stop offset="0.714" stop-color="#fff" stop-opacity="0.015"/><stop offset="0.786" stop-color="#fff" stop-opacity="0.009"/><stop offset="0.857" stop-color="#fff" stop-opacity="0.005"/><stop offset="0.929" stop-color="#fff" stop-opacity="0.003"/><stop offset="1.000" stop-color="#fff" stop-opacity="0.000"/></radialGradient>
<radialGradient id="g106"><stop offset="0.000" stop-color="#fff" stop-opacity="0.150"/><stop offset="0.071" stop-color="#fff" stop-opacity="0.147"/><stop offset="0.143" stop-color="#fff" stop-opacity="0.137"/><stop offset="0.214" stop-color="#fff" stop-opacity="0.122"/><stop offset="0.286" stop-color="#fff" stop-opacity="0.104"/><stop offset="0.357" stop-color="#fff" stop-opacity="0.084"/><stop offset="0.429" stop-color="#fff" stop-opacity="0.066"/><stop offset="0.500" stop-color="#fff" stop-opacity="0.049"/><stop offset="0.571" stop-color="#fff" stop-opacity="0.035"/><stop offset="0.643" stop-color="#fff" stop-opacity="0.023"/><stop offset="0.714" stop-color="#fff" stop-opacity="0.015"/><stop offset="0.786" stop-color="#fff" stop-opacity="0.009"/><stop offset="0.857" stop-color="#fff" stop-opacity="0.005"/><stop offset="0.929" stop-color="#fff" stop-opacity="0.003"/><stop offset="1.000" stop-color="#fff" stop-opacity="0.000"/></radialGradient>
<radialGradient id="g107"><stop offset="0.000" stop-color="#fff" stop-opacity="0.147"/><stop offset="0.071" stop-color="#fff" stop-opacity="0.144"/><stop offset="0.143" stop-color="#fff" stop-opacity="0.134"/><stop offset="0.214" stop-color="#fff" stop-opacity="0.120"/><stop offset="0.286" stop-color="#fff" stop-opacity="0.102"/><stop offset="0.357" stop-color="#fff" stop-opacity="0.083"/><stop offset="0.429" stop-color="#fff" stop-opacity="0.064"/><stop offset="0.500" stop-color="#fff" stop-opacity="0.048"/><stop offset="0.571" stop-color="#fff" stop-opacity="0.034"/><stop offset="0.643" stop-color="#fff" stop-opacity="0.023"/><stop offset="0.714" stop-color="#fff" stop-opacity="0.015"/><stop offset="0.786" stop-color="#fff" stop-opacity="0.009"/><stop offset="0.857" stop-color="#fff" stop-opacity="0.005"/><stop offset="0.929" stop-color="#fff" stop-opacity="0.003"/><stop offset="1.000" stop-color="#fff" stop-opacity="0.000"/></radialGradient>
<radialGradient id="g108"><stop offset="0.000" stop-color="#fff" stop-opacity="0.144"/><stop offset="0.071" stop-color="#fff" stop-opacity="0.140"/><stop offset="0.143" stop-color="#fff" stop-opacity="0.131"/><stop offset="0.214" stop-color="#fff" stop-opacity="0.117"/><stop offset="0.286" stop-color="#fff" stop-opacity="0.099"/><stop offset="0.357" stop-color="#fff" stop-opacity="0.081"/><stop offset="0.429" stop-color="#fff" stop-opacity="0.063"/><stop offset="0.500" stop-color="#fff" stop-opacity="0.047"/><stop offset="0.571" stop-color="#fff" stop-opacity="0.033"/><stop offset="0.643" stop-color="#fff" stop-opacity="0.022"/><stop offset="0.714" stop-color="#fff" stop-opacity="0.014"/><stop offset="0.786" stop-color="#fff" stop-opacity="0.009"/><stop offset="0.857" stop-color="#fff" stop-opacity="0.005"/><stop offset="0.929" stop-color="#fff" stop-opacity="0.003"/><stop offset="1.000" stop-color="#fff" stop-opacity="0.000"/></radialGradient>
<radialGradient id="g109"><stop offset="0.000" stop-color="#fff" stop-opacity="0.137"/><stop offset="0.071" stop-color="#fff" stop-opacity="0.134"/><stop offset="0.143" stop-color="#fff" stop-opacity="0.125"/><stop offset="0.214" stop-color="#fff" stop-opacity="0.111"/><stop offset="0.286" stop-color="#fff" stop-opacity="0.095"/><stop offset="0.357" stop-color="#fff" stop-opacity="0.077"/><stop offset="0.429" stop-color="#fff" stop-opacity="0.060"/><stop offset="0.500" stop-color="#fff" stop-opacity="0.045"/><stop offset="0.571" stop-color="#fff" stop-opacity="0.032"/><stop offset="0.643" stop-color="#fff" stop-opacity="0.021"/><stop offset="0.714" stop-color="#fff" stop-opacity="0.014"/><stop offset="0.786" stop-color="#fff" stop-opacity="0.009"/><stop offset="0.857" stop-color="#fff" stop-opacity="0.005"/><stop offset="0.929" stop-color="#fff" stop-opacity="0.003"/><stop offset="1.000" stop-color="#fff" stop-opacity="0.000"/></radialGradient>
<radialGradient id="g110"><stop offset="0.000" stop-color="#fff" stop-opacity="0.134"/><stop offset="0.071" stop-color="#fff" stop-opacity="0.131"/><stop offset="0.143" stop-color="#fff" stop-opacity="0.122"/><stop offset="0.214" stop-color="#fff" stop-opacity="0.109"/><stop offset="0.286" stop-color="#fff" stop-opacity="0.093"/><stop offset="0.357" stop-color="#fff" stop-opacity="0.075"/><stop offset="0.429" stop-color="#fff" stop-opacity="0.059"/><stop offset="0.500" stop-color="#fff" stop-opacity="0.043"/><stop offset="0.571" stop-color="#fff" stop-opacity="0.031"/><stop offset="0.643" stop-color="#fff" stop-opacity="0.021"/><stop offset="0.714" stop-color="#fff" stop-opacity="0.013"/><stop offset="0.786" stop-color="#fff" stop-opacity="0.008"/><stop offset="0.857" stop-color="#fff" stop-opacity="0.005"/><stop offset="0.929" stop-color="#fff" stop-opacity="0.003"/><stop offset="1.000" stop-color="#fff" stop-opacity="0.000"/></radialGradient>
<radialGradient id="g111"><stop offset="0.000" stop-color="#fff" stop-opacity="0.141"/><stop offset="0.071" stop-color="#fff" stop-opacity="0.138"/><stop offset="0.143" stop-color="#fff" stop-opacity="0.129"/><stop offset="0.214" stop-color="#fff" stop-opacity="0.115"/><stop offset="0.286" stop-color="#fff" stop-opacity="0.098"/><stop offset="0.357" stop-color="#fff" stop-opacity="0.080"/><stop offset="0.429" stop-color="#fff" stop-opacity="0.062"/><stop offset="0.500" stop-color="#fff" stop-opacity="0.046"/><stop offset="0.571" stop-color="#fff" stop-opacity="0.032"/><stop offset="0.643" stop-color="#fff" stop-opacity="0.022"/><stop offset="0.714" stop-color="#fff" stop-opacity="0.014"/><stop offset="0.786" stop-color="#fff" stop-opacity="0.009"/><stop offset="0.857" stop-color="#fff" stop-opacity="0.005"/><stop offset="0.929" stop-color="#fff" stop-opacity="0.003"/><stop offset="1.000" stop-color="#fff" stop-opacity="0.000"/></radialGradient>
<radialGradient id="g112"><stop offset="0.000" stop-color="#fff" stop-opacity="0.135"/><stop offset="0.071" stop-color="#fff" stop-opacity="0.132"/><stop offset="0.143" stop-color="#fff" stop-opacity="0.123"/><stop offset="0.214" stop-color="#fff" stop-opacity="0.110"/><stop offset="0.286" stop-color="#fff" stop-opacity="0.094"/><stop offset="0.357" stop-color="#fff" stop-opacity="0.076"/><stop offset="0.429" stop-color="#fff" stop-opacity="0.059"/><stop offset="0.500" stop-color="#fff" stop-opacity="0.044"/><stop offset="0.571" stop-color="#fff" stop-opacity="0.031"/><stop offset="0.643" stop-color="#fff" stop-opacity="0.021"/><stop offset="0.714" stop-color="#fff" stop-opacity="0.014"/><stop offset="0.786" stop-color="#fff" stop-opacity="0.008"/><stop offset="0.857" stop-color="#fff" stop-opacity="0.005"/><stop offset="0.929" stop-color="#fff" stop-opacity="0.003"/><stop offset="1.000" stop-color="#fff" stop-opacity="0.000"/></radialGradient>
<radialGradient id="g113"><stop offset="0.000" stop-color="#fff" stop-opacity="0.231"/><stop offset="0.071" stop-color="#fff" stop-opacity="0.226"/><stop offset="0.143" stop-color="#fff" stop-opacity="0.211"/><stop offset="0.214" stop-color="#fff" stop-opacity="0.188"/><stop offset="0.286" stop-color="#fff" stop-opacity="0.160"/><stop offset="0.357" stop-color="#fff" stop-opacity="0.130"/><stop offset="0.429" stop-color="#fff" stop-opacity="0.101"/><stop offset="0.500" stop-color="#fff" stop-opacity="0.075"/><stop offset="0.571" stop-color="#fff" stop-opacity="0.053"/><stop offset="0.643" stop-color="#fff" stop-opacity="0.036"/><stop offset="0.714" stop-color="#fff" stop-opacity="0.023"/><stop offset="0.786" stop-color="#fff" stop-opacity="0.014"/><stop offset="0.857" stop-color="#fff" stop-opacity="0.008"/><stop offset="0.929" stop-color="#fff" stop-opacity="0.005"/><stop offset="1.000" stop-color="#fff" stop-opacity="0.000"/></radialGradient>
<linearGradient id="hsp" gradientUnits="userSpaceOnUse" x1="180" y1="0" x2="302" y2="0"><stop offset="0" stop-color="#fff" stop-opacity="0"/><stop offset="0.3" stop-color="#fff" stop-opacity="0.22"/><stop offset="0.6" stop-color="#fff" stop-opacity="0.55"/><stop offset="0.85" stop-color="#fff" stop-opacity="0.3"/><stop offset="1" stop-color="#fff" stop-opacity="0"/></linearGradient>
<linearGradient id="vsp" gradientUnits="userSpaceOnUse" x1="0" y1="303" x2="0" y2="378"><stop offset="0" stop-color="#fff" stop-opacity="0"/><stop offset="0.37" stop-color="#fff" stop-opacity="0.4"/><stop offset="0.6" stop-color="#fff" stop-opacity="0.3"/><stop offset="1" stop-color="#fff" stop-opacity="0"/></linearGradient>
<radialGradient id="g114"><stop offset="0.000" stop-color="#fff" stop-opacity="1.000"/><stop offset="0.071" stop-color="#fff" stop-opacity="1.000"/><stop offset="0.143" stop-color="#fff" stop-opacity="1.000"/><stop offset="0.214" stop-color="#fff" stop-opacity="1.000"/><stop offset="0.286" stop-color="#fff" stop-opacity="1.000"/><stop offset="0.357" stop-color="#fff" stop-opacity="1.000"/><stop offset="0.429" stop-color="#fff" stop-opacity="0.777"/><stop offset="0.500" stop-color="#fff" stop-opacity="0.577"/><stop offset="0.571" stop-color="#fff" stop-opacity="0.409"/><stop offset="0.643" stop-color="#fff" stop-opacity="0.277"/><stop offset="0.714" stop-color="#fff" stop-opacity="0.179"/><stop offset="0.786" stop-color="#fff" stop-opacity="0.110"/><stop offset="0.857" stop-color="#fff" stop-opacity="0.065"/><stop offset="0.929" stop-color="#fff" stop-opacity="0.037"/><stop offset="1.000" stop-color="#fff" stop-opacity="0.000"/></radialGradient>
<filter id="gtex" x="270" y="225" width="140" height="90" filterUnits="userSpaceOnUse" color-interpolation-filters="sRGB">
<feTurbulence type="fractalNoise" baseFrequency="0.2" numOctaves="2" seed="8" result="dn"/>
<feDisplacementMap in="SourceGraphic" in2="dn" scale="6" xChannelSelector="R" yChannelSelector="G" result="disp"/>
<feGaussianBlur in="disp" stdDeviation="0.8" result="bl"/>
<feTurbulence type="fractalNoise" baseFrequency="0.13" numOctaves="2" seed="4" result="n1"/>
<feColorMatrix in="n1" type="matrix" values="1 0 0 0 0 1 0 0 0 0 1 0 0 0 0 0 0 0 0 1" result="g1"/>
<feTurbulence type="fractalNoise" baseFrequency="0.4" numOctaves="1" seed="9" result="n2"/>
<feColorMatrix in="n2" type="matrix" values="1 0 0 0 0 1 0 0 0 0 1 0 0 0 0 0 0 0 0 1" result="g2"/>
<feComposite in="g1" in2="g2" operator="arithmetic" k2="0.5" k3="0.5" result="nc"/>
<feColorMatrix in="nc" type="matrix" values="0 0 0 0 1 0 0 0 0 1 0 0 0 0 1 2.4 0 0 0 -0.15" result="m"/>
<feComposite in="m" in2="bl" operator="in"/>
</filter>
<filter id="hrough" x="300" y="250" width="80" height="50" filterUnits="userSpaceOnUse"><feTurbulence type="fractalNoise" baseFrequency="0.25" numOctaves="2" seed="21" result="dn"/><feDisplacementMap in="SourceGraphic" in2="dn" scale="5" xChannelSelector="R" yChannelSelector="G" result="d"/><feGaussianBlur in="d" stdDeviation="0.5"/></filter>
<filter id="eb" x="-0.2" y="-0.2" width="1.4" height="1.4"><feGaussianBlur stdDeviation="1.6"/></filter>
<filter id="hb" x="-0.2" y="-0.2" width="1.4" height="1.4"><feGaussianBlur stdDeviation="0.6"/></filter>
<radialGradient id="g115"><stop offset="0.000" stop-color="#fff" stop-opacity="0.830"/><stop offset="0.071" stop-color="#fff" stop-opacity="0.811"/><stop offset="0.143" stop-color="#fff" stop-opacity="0.757"/><stop offset="0.214" stop-color="#fff" stop-opacity="0.675"/><stop offset="0.286" stop-color="#fff" stop-opacity="0.575"/><stop offset="0.357" stop-color="#fff" stop-opacity="0.468"/><stop offset="0.429" stop-color="#fff" stop-opacity="0.363"/><stop offset="0.500" stop-color="#fff" stop-opacity="0.269"/><stop offset="0.571" stop-color="#fff" stop-opacity="0.191"/><stop offset="0.643" stop-color="#fff" stop-opacity="0.129"/><stop offset="0.714" stop-color="#fff" stop-opacity="0.084"/><stop offset="0.786" stop-color="#fff" stop-opacity="0.052"/><stop offset="0.857" stop-color="#fff" stop-opacity="0.030"/><stop offset="0.929" stop-color="#fff" stop-opacity="0.017"/><stop offset="1.000" stop-color="#fff" stop-opacity="0.000"/></radialGradient>
<radialGradient id="g116"><stop offset="0.000" stop-color="#fff" stop-opacity="0.654"/><stop offset="0.071" stop-color="#fff" stop-opacity="0.639"/><stop offset="0.143" stop-color="#fff" stop-opacity="0.597"/><stop offset="0.214" stop-color="#fff" stop-opacity="0.532"/><stop offset="0.286" stop-color="#fff" stop-opacity="0.453"/><stop offset="0.357" stop-color="#fff" stop-opacity="0.368"/><stop offset="0.429" stop-color="#fff" stop-opacity="0.286"/><stop offset="0.500" stop-color="#fff" stop-opacity="0.212"/><stop offset="0.571" stop-color="#fff" stop-opacity="0.151"/><stop offset="0.643" stop-color="#fff" stop-opacity="0.102"/><stop offset="0.714" stop-color="#fff" stop-opacity="0.066"/><stop offset="0.786" stop-color="#fff" stop-opacity="0.041"/><stop offset="0.857" stop-color="#fff" stop-opacity="0.024"/><stop offset="0.929" stop-color="#fff" stop-opacity="0.014"/><stop offset="1.000" stop-color="#fff" stop-opacity="0.000"/></radialGradient>
<radialGradient id="g117"><stop offset="0.000" stop-color="#fff" stop-opacity="0.695"/><stop offset="0.071" stop-color="#fff" stop-opacity="0.679"/><stop offset="0.143" stop-color="#fff" stop-opacity="0.634"/><stop offset="0.214" stop-color="#fff" stop-opacity="0.565"/><stop offset="0.286" stop-color="#fff" stop-opacity="0.481"/><stop offset="0.357" stop-color="#fff" stop-opacity="0.391"/><stop offset="0.429" stop-color="#fff" stop-opacity="0.304"/><stop offset="0.500" stop-color="#fff" stop-opacity="0.226"/><stop offset="0.571" stop-color="#fff" stop-opacity="0.160"/><stop offset="0.643" stop-color="#fff" stop-opacity="0.108"/><stop offset="0.714" stop-color="#fff" stop-opacity="0.070"/><stop offset="0.786" stop-color="#fff" stop-opacity="0.043"/><stop offset="0.857" stop-color="#fff" stop-opacity="0.025"/><stop offset="0.929" stop-color="#fff" stop-opacity="0.014"/><stop offset="1.000" stop-color="#fff" stop-opacity="0.000"/></radialGradient>
<radialGradient id="g118"><stop offset="0.000" stop-color="#fff" stop-opacity="0.652"/><stop offset="0.071" stop-color="#fff" stop-opacity="0.637"/><stop offset="0.143" stop-color="#fff" stop-opacity="0.595"/><stop offset="0.214" stop-color="#fff" stop-opacity="0.530"/><stop offset="0.286" stop-color="#fff" stop-opacity="0.452"/><stop offset="0.357" stop-color="#fff" stop-opacity="0.367"/><stop offset="0.429" stop-color="#fff" stop-opacity="0.285"/><stop offset="0.500" stop-color="#fff" stop-opacity="0.212"/><stop offset="0.571" stop-color="#fff" stop-opacity="0.150"/><stop offset="0.643" stop-color="#fff" stop-opacity="0.102"/><stop offset="0.714" stop-color="#fff" stop-opacity="0.066"/><stop offset="0.786" stop-color="#fff" stop-opacity="0.041"/><stop offset="0.857" stop-color="#fff" stop-opacity="0.024"/><stop offset="0.929" stop-color="#fff" stop-opacity="0.013"/><stop offset="1.000" stop-color="#fff" stop-opacity="0.000"/></radialGradient>
<radialGradient id="g119"><stop offset="0.000" stop-color="#fff" stop-opacity="0.676"/><stop offset="0.071" stop-color="#fff" stop-opacity="0.661"/><stop offset="0.143" stop-color="#fff" stop-opacity="0.617"/><stop offset="0.214" stop-color="#fff" stop-opacity="0.550"/><stop offset="0.286" stop-color="#fff" stop-opacity="0.468"/><stop offset="0.357" stop-color="#fff" stop-opacity="0.381"/><stop offset="0.429" stop-color="#fff" stop-opacity="0.296"/><stop offset="0.500" stop-color="#fff" stop-opacity="0.220"/><stop offset="0.571" stop-color="#fff" stop-opacity="0.156"/><stop offset="0.643" stop-color="#fff" stop-opacity="0.105"/><stop offset="0.714" stop-color="#fff" stop-opacity="0.068"/><stop offset="0.786" stop-color="#fff" stop-opacity="0.042"/><stop offset="0.857" stop-color="#fff" stop-opacity="0.025"/><stop offset="0.929" stop-color="#fff" stop-opacity="0.014"/><stop offset="1.000" stop-color="#fff" stop-opacity="0.000"/></radialGradient>
<radialGradient id="g120"><stop offset="0.000" stop-color="#fff" stop-opacity="0.656"/><stop offset="0.071" stop-color="#fff" stop-opacity="0.641"/><stop offset="0.143" stop-color="#fff" stop-opacity="0.599"/><stop offset="0.214" stop-color="#fff" stop-opacity="0.534"/><stop offset="0.286" stop-color="#fff" stop-opacity="0.455"/><stop offset="0.357" stop-color="#fff" stop-opacity="0.370"/><stop offset="0.429" stop-color="#fff" stop-opacity="0.287"/><stop offset="0.500" stop-color="#fff" stop-opacity="0.213"/><stop offset="0.571" stop-color="#fff" stop-opacity="0.151"/><stop offset="0.643" stop-color="#fff" stop-opacity="0.102"/><stop offset="0.714" stop-color="#fff" stop-opacity="0.066"/><stop offset="0.786" stop-color="#fff" stop-opacity="0.041"/><stop offset="0.857" stop-color="#fff" stop-opacity="0.024"/><stop offset="0.929" stop-color="#fff" stop-opacity="0.014"/><stop offset="1.000" stop-color="#fff" stop-opacity="0.000"/></radialGradient>
<radialGradient id="g121"><stop offset="0.000" stop-color="#fff" stop-opacity="0.272"/><stop offset="0.071" stop-color="#fff" stop-opacity="0.266"/><stop offset="0.143" stop-color="#fff" stop-opacity="0.248"/><stop offset="0.214" stop-color="#fff" stop-opacity="0.221"/><stop offset="0.286" stop-color="#fff" stop-opacity="0.189"/><stop offset="0.357" stop-color="#fff" stop-opacity="0.153"/><stop offset="0.429" stop-color="#fff" stop-opacity="0.119"/><stop offset="0.500" stop-color="#fff" stop-opacity="0.088"/><stop offset="0.571" stop-color="#fff" stop-opacity="0.063"/><stop offset="0.643" stop-color="#fff" stop-opacity="0.042"/><stop offset="0.714" stop-color="#fff" stop-opacity="0.027"/><stop offset="0.786" stop-color="#fff" stop-opacity="0.017"/><stop offset="0.857" stop-color="#fff" stop-opacity="0.010"/><stop offset="0.929" stop-color="#fff" stop-opacity="0.006"/><stop offset="1.000" stop-color="#fff" stop-opacity="0.000"/></radialGradient>
<radialGradient id="g122"><stop offset="0.000" stop-color="#fff" stop-opacity="1.000"/><stop offset="0.071" stop-color="#fff" stop-opacity="1.000"/><stop offset="0.143" stop-color="#fff" stop-opacity="1.000"/><stop offset="0.214" stop-color="#fff" stop-opacity="0.975"/><stop offset="0.286" stop-color="#fff" stop-opacity="0.830"/><stop offset="0.357" stop-color="#fff" stop-opacity="0.675"/><stop offset="0.429" stop-color="#fff" stop-opacity="0.524"/><stop offset="0.500" stop-color="#fff" stop-opacity="0.389"/><stop offset="0.571" stop-color="#fff" stop-opacity="0.276"/><stop offset="0.643" stop-color="#fff" stop-opacity="0.187"/><stop offset="0.714" stop-color="#fff" stop-opacity="0.121"/><stop offset="0.786" stop-color="#fff" stop-opacity="0.074"/><stop offset="0.857" stop-color="#fff" stop-opacity="0.044"/><stop offset="0.929" stop-color="#fff" stop-opacity="0.025"/><stop offset="1.000" stop-color="#fff" stop-opacity="0.000"/></radialGradient>
<filter id="vir" x="118" y="43" width="456" height="456" filterUnits="userSpaceOnUse" color-interpolation-filters="sRGB">
<feTurbulence type="fractalNoise" baseFrequency="0.35" numOctaves="2" seed="11" result="t1"/>
<feColorMatrix in="t1" type="matrix" values="1 0 0 0 0 1 0 0 0 0 1 0 0 0 0 0 0 0 0 1" result="n1"/>
<feTurbulence type="fractalNoise" baseFrequency="0.8" numOctaves="1" seed="3" result="t2"/>
<feColorMatrix in="t2" type="matrix" values="1 0 0 0 0 1 0 0 0 0 1 0 0 0 0 0 0 0 0 1" result="n2"/>
<feComposite in="n1" in2="n2" operator="arithmetic" k2="0.5" k3="0.5" k4="0" result="n"/>
<feComposite in="SourceGraphic" in2="n" operator="arithmetic" k1="0" k2="2.0" k3="0.48" k4="-0.6600"/>
<feComponentTransfer>
<feFuncR type="table" tableValues="0.2670 0.2770 0.2823 0.2829 0.2788 0.2706 0.2590 0.2450 0.2297 0.2143 0.1994 0.1856 0.1727 0.1607 0.1490 0.1378 0.1276 0.1206 0.1206 0.1323 0.1579 0.1966 0.2461 0.3041 0.3692 0.4401 0.5160 0.5958 0.6785 0.7624 0.8456 0.9261 0.9932"/>
<feFuncG type="table" tableValues="0.0049 0.0503 0.0950 0.1359 0.1755 0.2141 0.2515 0.2877 0.3224 0.3556 0.3876 0.4186 0.4488 0.4785 0.5081 0.5375 0.5669 0.5964 0.6258 0.6550 0.6838 0.7118 0.7389 0.7647 0.7889 0.8111 0.8312 0.8487 0.8637 0.8764 0.8873 0.8973 0.9062"/>
<feFuncB type="table" tableValues="0.3294 0.3757 0.4173 0.4534 0.4834 0.5071 0.5247 0.5373 0.5457 0.5512 0.5546 0.5568 0.5579 0.5581 0.5573 0.5549 0.5506 0.5436 0.5335 0.5197 0.5017 0.4792 0.4520 0.4199 0.3829 0.3410 0.2943 0.2433 0.1895 0.1371 0.0997 0.1041 0.1439"/>
</feComponentTransfer>
</filter>
</defs>
<g clip-path="url(#ax)"><g filter="url(#vir)">
<rect x="118" y="43" width="456" height="456" fill="#515151"/>
<ellipse cx="357" cy="266" rx="370.0" ry="256.0" transform="rotate(-5.5 357 266)" fill="url(#dh)"/>
<ellipse cx="357" cy="266" rx="218.4" ry="114.4" transform="rotate(-5.5 357 266)" fill="url(#dk)"/>
<ellipse cx="260" cy="334" rx="40" ry="34" fill="url(#glow)"/>
<ellipse cx="138.5" cy="54.2" rx="4.86" ry="5.59" transform="rotate(30 138.5 54.2)" fill="url(#g0)"/>
<ellipse cx="161.8" cy="48" rx="4.20" ry="5.88" transform="rotate(40 161.8 48)" fill="url(#g1)"/>
<ellipse cx="187.2" cy="57.8" rx="6.72" ry="6.72" fill="url(#g2)"/>
<ellipse cx="236" cy="56.3" rx="4.57" ry="4.57" fill="url(#g3)"/>
<ellipse cx="327" cy="64" rx="4.86" ry="4.86" fill="url(#g4)"/>
<ellipse cx="234" cy="101" rx="7.21" ry="7.21" fill="url(#g5)"/>
<ellipse cx="249.7" cy="130.2" rx="4.50" ry="4.50" fill="url(#g6)"/>
<ellipse cx="209" cy="137.8" rx="4.86" ry="4.86" fill="url(#g7)"/>
<ellipse cx="169.6" cy="131.8" rx="4.20" ry="4.20" fill="url(#g8)"/>
<ellipse cx="183.5" cy="148.3" rx="5.20" ry="5.20" fill="url(#g9)"/>
<ellipse cx="173" cy="175.2" rx="5.75" ry="9.21" transform="rotate(-25 173 175.2)" fill="url(#g10)"/>
<ellipse cx="157.7" cy="185.8" rx="7.39" ry="7.39" fill="url(#g11)"/>
<ellipse cx="153.5" cy="169.8" rx="3.90" ry="3.90" fill="url(#g12)"/>
<ellipse cx="132.8" cy="185.3" rx="3.90" ry="3.90" fill="url(#g13)"/>
<ellipse cx="122" cy="134.8" rx="4.20" ry="4.20" fill="url(#g14)"/>
<ellipse cx="299.8" cy="161.5" rx="5.00" ry="5.00" fill="url(#g15)"/>
<ellipse cx="353.5" cy="138" rx="5.00" ry="11.49" transform="rotate(20 353.5 138)" fill="url(#g16)"/>
<ellipse cx="373.5" cy="109.3" rx="4.20" ry="4.20" fill="url(#g17)"/>
<ellipse cx="323" cy="129.8" rx="5.40" ry="5.40" fill="url(#g18)"/>
<ellipse cx="313.5" cy="141.8" rx="4.20" ry="4.20" fill="url(#g19)"/>
<ellipse cx="372.8" cy="153.5" rx="3.60" ry="3.60" fill="url(#g20)"/>
<ellipse cx="373" cy="157.3" rx="3.60" ry="3.60" fill="url(#g21)"/>
<ellipse cx="404.8" cy="76.5" rx="4.20" ry="4.20" fill="url(#g22)"/>
<ellipse cx="479.3" cy="150.5" rx="5.63" ry="14.07" transform="rotate(-25 479.3 150.5)" fill="url(#g23)"/>
<ellipse cx="454.3" cy="121" rx="6.00" ry="4.50" fill="url(#g24)"/>
<ellipse cx="453.5" cy="103.5" rx="3.90" ry="3.90" fill="url(#g25)"/>
<ellipse cx="446" cy="147.5" rx="5.40" ry="3.24" fill="url(#g26)"/>
<ellipse cx="482.3" cy="198" rx="4.20" ry="4.20" fill="url(#g27)"/>
<ellipse cx="541.5" cy="211.8" rx="4.20" ry="4.20" fill="url(#g28)"/>
<ellipse cx="534.8" cy="246" rx="4.20" ry="4.20" fill="url(#g29)"/>
<ellipse cx="469" cy="286.8" rx="4.80" ry="3.12" transform="rotate(-10 469 286.8)" fill="url(#g30)"/>
<ellipse cx="507.3" cy="219.3" rx="4.50" ry="4.50" fill="url(#g31)"/>
<ellipse cx="476" cy="227.3" rx="4.20" ry="4.20" fill="url(#g32)"/>
<ellipse cx="537.3" cy="224.8" rx="4.20" ry="4.20" fill="url(#g33)"/>
<ellipse cx="528" cy="391.5" rx="5.51" ry="5.51" fill="url(#g34)"/>
<ellipse cx="539.8" cy="453.1" rx="5.02" ry="3.51" transform="rotate(10 539.8 453.1)" fill="url(#g35)"/>
<ellipse cx="535.3" cy="455" rx="3.60" ry="3.60" fill="url(#g36)"/>
<ellipse cx="533.3" cy="479.9" rx="19.31" ry="7.34" transform="rotate(-4 533.3 479.9)" fill="url(#g37)"/>
<ellipse cx="512.3" cy="417.8" rx="4.20" ry="4.20" fill="url(#g38)"/>
<ellipse cx="529.8" cy="414.3" rx="3.90" ry="3.90" fill="url(#g39)"/>
<ellipse cx="514" cy="406.8" rx="4.20" ry="4.20" fill="url(#g40)"/>
<ellipse cx="508.5" cy="493.5" rx="4.20" ry="4.20" fill="url(#g41)"/>
<ellipse cx="344.8" cy="417.8" rx="6.43" ry="6.43" fill="url(#g42)"/>
<ellipse cx="296" cy="443.5" rx="5.13" ry="5.13" fill="url(#g43)"/>
<ellipse cx="400.3" cy="438" rx="4.72" ry="4.72" fill="url(#g44)"/>
<ellipse cx="378" cy="369.8" rx="3.90" ry="3.90" fill="url(#g45)"/>
<ellipse cx="337.3" cy="377" rx="4.20" ry="4.20" fill="url(#g46)"/>
<ellipse cx="411.8" cy="462.3" rx="6.00" ry="6.00" fill="url(#g47)"/>
<ellipse cx="322.8" cy="487.3" rx="4.50" ry="4.50" fill="url(#g48)"/>
<ellipse cx="328" cy="485.5" rx="3.90" ry="3.90" fill="url(#g49)"/>
<ellipse cx="338" cy="481" rx="4.50" ry="4.50" fill="url(#g50)"/>
<ellipse cx="179" cy="367.5" rx="8.31" ry="4.57" transform="rotate(40 179 367.5)" fill="url(#g51)"/>
<ellipse cx="261" cy="381.8" rx="12.21" ry="5.49" transform="rotate(25 261 381.8)" fill="url(#g52)"/>
<ellipse cx="240.5" cy="251" rx="5.39" ry="5.39" fill="url(#g53)"/>
<ellipse cx="194" cy="238.5" rx="4.20" ry="4.20" fill="url(#g54)"/>
<ellipse cx="194" cy="246.8" rx="4.20" ry="4.20" fill="url(#g55)"/>
<ellipse cx="259" cy="296" rx="4.86" ry="6.32" transform="rotate(50 259 296)" fill="url(#g56)"/>
<ellipse cx="196.5" cy="295.5" rx="4.50" ry="4.50" fill="url(#g57)"/>
<ellipse cx="216" cy="312.5" rx="4.50" ry="4.50" fill="url(#g58)"/>
<ellipse cx="143" cy="313.5" rx="4.50" ry="4.50" fill="url(#g59)"/>
<ellipse cx="199" cy="331" rx="11.26" ry="6.19" transform="rotate(-5 199 331)" fill="url(#g60)"/>
<ellipse cx="227.3" cy="326" rx="3.60" ry="7.92" fill="url(#g61)"/>
<ellipse cx="231" cy="342.3" rx="3.90" ry="3.90" fill="url(#g62)"/>
<ellipse cx="278.4" cy="342" rx="7.40" ry="9.99" fill="url(#g63)"/>
<ellipse cx="333.7" cy="336.7" rx="4.20" ry="4.20" fill="url(#g64)"/>
<ellipse cx="288" cy="323.7" rx="3.90" ry="3.90" fill="url(#g65)"/>
<ellipse cx="468.5" cy="286.6" rx="3.90" ry="3.90" fill="url(#g66)"/>
<ellipse cx="252.3" cy="119" rx="4.50" ry="4.50" fill="url(#g67)"/>
<ellipse cx="248" cy="111.5" rx="4.50" ry="4.50" fill="url(#g68)"/>
<ellipse cx="238.5" cy="76" rx="4.50" ry="4.50" fill="url(#g69)"/>
<ellipse cx="196" cy="152.3" rx="4.50" ry="4.50" fill="url(#g70)"/>
<ellipse cx="185.5" cy="171" rx="4.50" ry="4.50" fill="url(#g71)"/>
<ellipse cx="159.8" cy="124.8" rx="4.50" ry="4.50" fill="url(#g72)"/>
<ellipse cx="124" cy="159.8" rx="4.50" ry="4.50" fill="url(#g73)"/>
<ellipse cx="356.8" cy="92.3" rx="4.50" ry="4.50" fill="url(#g74)"/>
<ellipse cx="396.8" cy="109.8" rx="4.50" ry="4.50" fill="url(#g75)"/>
<ellipse cx="304.8" cy="83.5" rx="4.50" ry="4.50" fill="url(#g76)"/>
<ellipse cx="282.3" cy="92.8" rx="4.50" ry="4.50" fill="url(#g77)"/>
<ellipse cx="307.3" cy="91" rx="4.50" ry="4.50" fill="url(#g78)"/>
<ellipse cx="272.3" cy="189.8" rx="4.50" ry="4.50" fill="url(#g79)"/>
<ellipse cx="332.3" cy="113" rx="4.50" ry="4.50" fill="url(#g80)"/>
<ellipse cx="513.5" cy="58.5" rx="4.50" ry="4.50" fill="url(#g81)"/>
<ellipse cx="527.3" cy="102.5" rx="4.50" ry="4.50" fill="url(#g82)"/>
<ellipse cx="434" cy="179" rx="4.50" ry="4.50" fill="url(#g83)"/>
<ellipse cx="446" cy="190.5" rx="4.50" ry="4.50" fill="url(#g84)"/>
<ellipse cx="520.3" cy="174" rx="4.50" ry="4.50" fill="url(#g85)"/>
<ellipse cx="532.3" cy="191" rx="4.50" ry="4.50" fill="url(#g86)"/>
<ellipse cx="472.3" cy="118.5" rx="4.50" ry="4.50" fill="url(#g87)"/>
<ellipse cx="523.5" cy="213" rx="4.50" ry="4.50" fill="url(#g88)"/>
<ellipse cx="530.3" cy="324" rx="4.50" ry="4.50" fill="url(#g89)"/>
<ellipse cx="461" cy="354.8" rx="4.50" ry="4.50" fill="url(#g90)"/>
<ellipse cx="444.8" cy="436" rx="4.50" ry="4.50" fill="url(#g91)"/>
<ellipse cx="432.3" cy="396" rx="4.50" ry="4.50" fill="url(#g92)"/>
<ellipse cx="432.3" cy="450.5" rx="4.50" ry="4.50" fill="url(#g93)"/>
<ellipse cx="509.8" cy="486" rx="4.50" ry="4.50" fill="url(#g94)"/>
<ellipse cx="379.8" cy="378.5" rx="4.50" ry="4.50" fill="url(#g95)"/>
<ellipse cx="299.8" cy="406.8" rx="4.50" ry="4.50" fill="url(#g96)"/>
<ellipse cx="374.8" cy="407.3" rx="4.50" ry="4.50" fill="url(#g97)"/>
<ellipse cx="333.5" cy="426" rx="4.50" ry="4.50" fill="url(#g98)"/>
<ellipse cx="381" cy="433.5" rx="4.50" ry="4.50" fill="url(#g99)"/>
<ellipse cx="409.8" cy="371" rx="4.50" ry="4.50" fill="url(#g100)"/>
<ellipse cx="339.8" cy="459.8" rx="4.50" ry="4.50" fill="url(#g101)"/>
<ellipse cx="349.8" cy="468.5" rx="4.50" ry="4.50" fill="url(#g102)"/>
<ellipse cx="147.3" cy="406" rx="4.50" ry="4.50" fill="url(#g103)"/>
<ellipse cx="129" cy="417.8" rx="4.50" ry="4.50" fill="url(#g104)"/>
<ellipse cx="181" cy="425" rx="4.50" ry="4.50" fill="url(#g105)"/>
<ellipse cx="254.8" cy="441" rx="4.50" ry="4.50" fill="url(#g106)"/>
<ellipse cx="264.8" cy="408.5" rx="4.50" ry="4.50" fill="url(#g107)"/>
<ellipse cx="160.3" cy="220.5" rx="4.50" ry="4.50" fill="url(#g108)"/>
<ellipse cx="213.5" cy="221.8" rx="4.50" ry="4.50" fill="url(#g109)"/>
<ellipse cx="198" cy="259" rx="4.50" ry="4.50" fill="url(#g110)"/>
<ellipse cx="153.5" cy="284.8" rx="4.50" ry="4.50" fill="url(#g111)"/>
<ellipse cx="202.8" cy="309.8" rx="4.50" ry="4.50" fill="url(#g112)"/>
<ellipse cx="387.6" cy="322.7" rx="4.50" ry="4.50" fill="url(#g113)"/>
<rect x="180" y="329.8" width="122" height="1.6" fill="url(#hsp)"/>
<rect x="252.8" y="303" width="1.6" height="75" fill="url(#vsp)"/>
<ellipse cx="253.6" cy="330.6" rx="17.31" ry="17.31" fill="url(#g114)"/>
<g fill="#000" opacity="0.45"><rect x="242" y="329" width="7" height="1"/><rect x="244" y="332" width="7" height="1"/><rect x="257" y="329" width="2" height="1"/><rect x="258" y="332" width="3" height="1"/></g>
<g filter="url(#gtex)"><polygon points="283.6,284.5 284.7,277.9 287.4,271.3 291.6,264.7 297.0,258.6 303.4,255.3 309.8,253.2 316.2,250.9 321.6,249.3 328.0,246.0 334.4,242.7 340.9,239.9 347.3,237.8 353.7,236.1 360.1,235.0 367.6,236.7 374.0,238.8 380.4,242.7 386.9,246.6 393.3,248.8 398.6,251.5 401.3,255.9 400.2,260.9 395.4,265.8 390.1,270.2 383.7,273.5 375.1,275.1 366.5,275.7 359.1,279.0 350.5,281.2 343.0,282.9 337.6,285.6 334.4,291.1 333.4,296.6 332.3,300.4 325.9,302.1 318.4,301.6 310.9,298.8 303.4,294.9 297.0,291.1 290.6,287.8 286.3,286.7" fill="#fff" fill-opacity="0.34" filter="url(#eb)"/><polygon points="287.5,283.0 288.5,277.0 291.0,271.0 295.0,265.0 300.0,259.5 306.0,256.5 312.0,254.5 318.0,252.5 323.0,251.0 329.0,248.0 335.0,245.0 341.0,242.5 347.0,240.5 353.0,239.0 359.0,238.0 366.0,239.5 372.0,241.5 378.0,245.0 384.0,248.5 390.0,250.5 395.0,253.0 397.5,257.0 396.5,261.5 392.0,266.0 387.0,270.0 381.0,273.0 373.0,274.5 365.0,275.0 358.0,278.0 350.0,280.0 343.0,281.5 338.0,284.0 335.0,289.0 334.0,294.0 333.0,297.5 327.0,299.0 320.0,298.5 313.0,296.0 306.0,292.5 300.0,289.0 294.0,286.0 290.0,285.0" fill="#fff" fill-opacity="0.32" filter="url(#eb)"/><g fill="none" stroke="#fff" stroke-opacity="0.7" stroke-linecap="round" stroke-linejoin="round"><path d="M301.5,277 C301.5,271 304.5,265 310.5,261 C319,256.5 331,252.5 345,248 C355,245.3 364,244.6 370,246.3" stroke-width="6.2"/><path d="M303,281 C304,274 309,268.5 318,264.5 C328,261 340,258.5 352,258 C362,258.5 369,263 377,265 C383,266.5 388,266 391.5,264.5" stroke-width="6.6"/><path d="M301,285.5 C305,288.5 311,291 318,292.8 C324,294 329,293.5 332,292" stroke-width="5.6"/></g><path d="M368,245.5 C377,248 386,252 394,256" fill="none" stroke="#fff" stroke-opacity="0.7" stroke-width="6" stroke-linecap="round"/><polygon points="300.5,283 302.5,276 308,271 316,271 318.5,280 320,287 312,290 305,288" fill="#fff" fill-opacity="0.8"/></g>
<polyline points="310,259.5 323,256.3 337,255.6 352,254.9" fill="none" stroke="#000" stroke-opacity="0.0" stroke-width="1.2" filter="url(#hb)"/>
<polyline points="297,276.5 304,272.8 312,269.5" fill="none" stroke="#000" stroke-opacity="0.3" stroke-width="2" filter="url(#hb)"/>
<polygon points="321.5,280.5 321.5,276.0 323.5,272.0 327.0,268.5 332.0,266.0 338.0,263.5 344.0,261.0 350.0,259.8 356.0,260.5 360.5,263.0 363.5,267.5 363.0,272.5 359.0,276.0 353.0,278.5 346.0,279.5 339.0,280.5 333.0,281.0 328.5,282.0 325.0,283.5 322.5,283.5" fill="#000" filter="url(#hrough)"/>
<ellipse cx="345.2" cy="269.3" rx="4.24" ry="4.24" fill="url(#g115)"/>
<ellipse cx="340" cy="281" rx="3.42" ry="3.42" fill="url(#g116)"/>
<ellipse cx="329.5" cy="285" rx="3.67" ry="3.67" fill="url(#g117)"/>
<ellipse cx="335" cy="285.5" rx="3.42" ry="3.42" fill="url(#g118)"/>
<ellipse cx="347" cy="277.5" rx="3.55" ry="3.55" fill="url(#g119)"/>
<ellipse cx="351" cy="277" rx="3.42" ry="3.42" fill="url(#g120)"/>
<ellipse cx="337.3" cy="260" rx="2.70" ry="2.70" fill="url(#g121)"/>
<ellipse cx="316.6" cy="244.6" rx="9.27" ry="9.27" fill="url(#g122)"/>
</g></g>
<ellipse cx="345.7" cy="268.6" rx="69.4" ry="37" transform="rotate(-12.5 345.25 268.6)" fill="none" stroke="#ff0000" stroke-width="3"/>
<rect x="120.5" y="45.5" width="450" height="450" fill="none" stroke="#000" stroke-width="1.1"/>
<g stroke="#000" stroke-width="1.1">
<line x1="181.5" y1="45.5" x2="181.5" y2="40" />
<line x1="285.5" y1="45.5" x2="285.5" y2="40" />
<line x1="390.5" y1="45.5" x2="390.5" y2="40" />
<line x1="495.5" y1="45.5" x2="495.5" y2="40" />
<line x1="180.5" y1="495.5" x2="180.5" y2="500.7" />
<line x1="285.5" y1="495.5" x2="285.5" y2="500.7" />
<line x1="390.5" y1="495.5" x2="390.5" y2="500.7" />
<line x1="494.5" y1="495.5" x2="494.5" y2="500.7" />
<line x1="120.5" y1="90.5" x2="115.3" y2="90.5" />
<line x1="120.5" y1="191.5" x2="115.3" y2="191.5" />
<line x1="120.5" y1="291.5" x2="115.3" y2="291.5" />
<line x1="120.5" y1="392.5" x2="115.3" y2="392.5" />
<line x1="120.5" y1="492.5" x2="115.3" y2="492.5" />
<line x1="570.5" y1="91.5" x2="575.7" y2="91.5" />
<line x1="570.5" y1="191.5" x2="575.7" y2="191.5" />
<line x1="570.5" y1="292.5" x2="575.7" y2="292.5" />
<line x1="570.5" y1="392.5" x2="575.7" y2="392.5" />
<line x1="570.5" y1="493.5" x2="575.7" y2="493.5" />
</g>
<g opacity="0.999"><g font-size="13.9">
<text x="147.2" y="514.8" textLength="65.8" lengthAdjust="spacingAndGlyphs">9<tspan font-size="9.7" dy="-5">h</tspan><tspan dy="5">51</tspan><tspan font-size="9.7" dy="-5">m</tspan><tspan dy="5">05</tspan><tspan font-size="9.7" dy="-5">s</tspan></text>
<text x="274.3" y="514.8" textLength="21.8" lengthAdjust="spacingAndGlyphs">00<tspan font-size="9.7" dy="-5">s</tspan></text>
<text x="365.4" y="514.8" textLength="50" lengthAdjust="spacingAndGlyphs">50<tspan font-size="9.7" dy="-5">m</tspan><tspan dy="5">55</tspan><tspan font-size="9.7" dy="-5">s</tspan></text>
<text x="483.4" y="514.8" textLength="21.9" lengthAdjust="spacingAndGlyphs">50<tspan font-size="9.7" dy="-5">s</tspan></text>
<text x="64.3" y="94" textLength="44.4" lengthAdjust="spacingAndGlyphs">33°35'</text>
<text x="89.2" y="194.9" textLength="20.4" lengthAdjust="spacingAndGlyphs">34'</text>
<text x="89.2" y="294.8" textLength="20.4" lengthAdjust="spacingAndGlyphs">33'</text>
<text x="89.2" y="395.5" textLength="20.4" lengthAdjust="spacingAndGlyphs">32'</text>
<text x="89.2" y="496" textLength="20.4" lengthAdjust="spacingAndGlyphs">31'</text>
</g>
<text x="297.5" y="546.7" font-size="22.2" textLength="94.5" lengthAdjust="spacingAndGlyphs">RA (deg)</text>
<text transform="translate(46.3 326.4) rotate(-90)" x="0" y="0" font-size="22.2" textLength="111.5" lengthAdjust="spacingAndGlyphs">DEC (deg)</text></g>
</svg>
</body></html>
